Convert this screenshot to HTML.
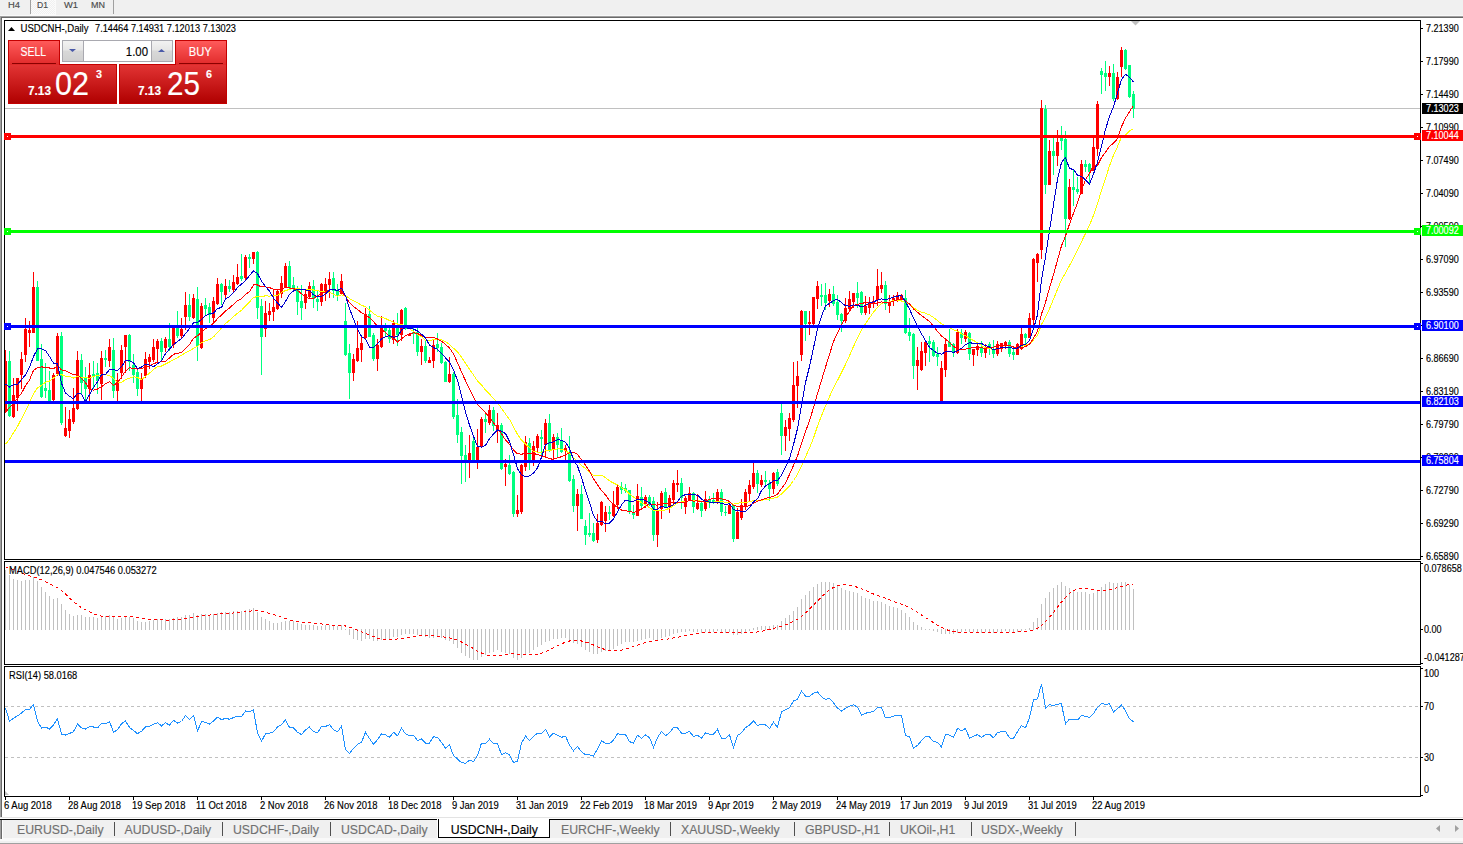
<!DOCTYPE html><html><head><meta charset="utf-8"><title>USDCNH-,Daily</title><style>
html,body{margin:0;padding:0;width:1463px;height:844px;overflow:hidden;background:#fff;}
svg{position:absolute;left:0;top:0;display:block}
text{font-family:"Liberation Sans",sans-serif;white-space:pre}
</style></head><body>
<svg width="1463" height="844" viewBox="0 0 1463 844">
<rect x="0" y="0" width="1463" height="15" fill="#f0f0f0" shape-rendering="crispEdges" />
<rect x="0" y="15" width="1463" height="1" fill="#f8f8f8" shape-rendering="crispEdges" />
<defs><pattern id="chk" x="0" y="0" width="2" height="2" patternUnits="userSpaceOnUse"><rect width="2" height="2" fill="#f0f0f0"/><rect width="1" height="1" fill="#fbfbfb"/><rect x="1" y="1" width="1" height="1" fill="#fbfbfb"/></pattern></defs>
<rect x="31" y="0" width="24" height="14" fill="url(#chk)" shape-rendering="crispEdges" />
<rect x="55" y="0" width="1" height="15" fill="#fafafa" shape-rendering="crispEdges" />
<rect x="31" y="14" width="25" height="1" fill="#fafafa" shape-rendering="crispEdges" />
<rect x="30" y="0" width="1" height="14" fill="#a0a0a0" shape-rendering="crispEdges" />
<rect x="113" y="0" width="1" height="14" fill="#a0a0a0" shape-rendering="crispEdges" />
<text x="8" y="8" font-size="9.8" fill="#4a4a4a" stroke="#4a4a4a" stroke-width="0.15" textLength="12.00" lengthAdjust="spacingAndGlyphs" >H4</text>
<text x="37" y="8" font-size="9.8" fill="#4a4a4a" stroke="#4a4a4a" stroke-width="0.15" textLength="11.00" lengthAdjust="spacingAndGlyphs" >D1</text>
<text x="64" y="8" font-size="9.8" fill="#4a4a4a" stroke="#4a4a4a" stroke-width="0.15" textLength="14.00" lengthAdjust="spacingAndGlyphs" >W1</text>
<text x="91" y="8" font-size="9.8" fill="#4a4a4a" stroke="#4a4a4a" stroke-width="0.15" textLength="14.00" lengthAdjust="spacingAndGlyphs" >MN</text>
<rect x="0" y="16" width="1463" height="1" fill="#a0a0a0" shape-rendering="crispEdges" />
<rect x="0" y="17" width="1463" height="1" fill="#696969" shape-rendering="crispEdges" />
<rect x="0" y="16" width="1" height="801" fill="#a0a0a0" shape-rendering="crispEdges" />
<rect x="1" y="17" width="1" height="800" fill="#696969" shape-rendering="crispEdges" />
<rect x="2" y="18" width="1461" height="799" fill="#ffffff" shape-rendering="crispEdges" />
<rect x="5" y="108" width="1415" height="1" fill="#c0c0c0" shape-rendering="crispEdges" />
<g shape-rendering="crispEdges">
<rect x="5" y="350" width="1" height="63" fill="#ff0000"/>
<rect x="4" y="361" width="3" height="49" fill="#ff0000"/>
<rect x="9" y="351" width="1" height="66" fill="#00ff7f"/>
<rect x="8" y="361" width="3" height="55" fill="#00ff7f"/>
<rect x="13" y="378" width="1" height="40" fill="#ff0000"/>
<rect x="12" y="395" width="3" height="22" fill="#ff0000"/>
<rect x="17" y="378" width="1" height="33" fill="#ff0000"/>
<rect x="16" y="378" width="3" height="20" fill="#ff0000"/>
<rect x="21" y="352" width="1" height="37" fill="#ff0000"/>
<rect x="20" y="359" width="3" height="16" fill="#ff0000"/>
<rect x="25" y="318" width="1" height="44" fill="#ff0000"/>
<rect x="24" y="329" width="3" height="26" fill="#ff0000"/>
<rect x="29" y="321" width="1" height="26" fill="#ff0000"/>
<rect x="28" y="330" width="3" height="3" fill="#ff0000"/>
<rect x="33" y="272" width="1" height="61" fill="#ff0000"/>
<rect x="32" y="287" width="3" height="46" fill="#ff0000"/>
<rect x="37" y="281" width="1" height="80" fill="#00ff7f"/>
<rect x="36" y="287" width="3" height="74" fill="#00ff7f"/>
<rect x="41" y="344" width="1" height="54" fill="#00ff7f"/>
<rect x="40" y="359" width="3" height="38" fill="#00ff7f"/>
<rect x="45" y="363" width="1" height="35" fill="#00ff7f"/>
<rect x="44" y="388" width="3" height="3" fill="#00ff7f"/>
<rect x="49" y="371" width="1" height="30" fill="#00ff7f"/>
<rect x="48" y="390" width="3" height="11" fill="#00ff7f"/>
<rect x="53" y="373" width="1" height="28" fill="#ff0000"/>
<rect x="52" y="375" width="3" height="25" fill="#ff0000"/>
<rect x="57" y="333" width="1" height="43" fill="#ff0000"/>
<rect x="56" y="336" width="3" height="38" fill="#ff0000"/>
<rect x="61" y="332" width="1" height="93" fill="#00ff7f"/>
<rect x="60" y="336" width="3" height="87" fill="#00ff7f"/>
<rect x="65" y="407" width="1" height="30" fill="#ff0000"/>
<rect x="64" y="428" width="3" height="8" fill="#ff0000"/>
<rect x="69" y="410" width="1" height="28" fill="#ff0000"/>
<rect x="68" y="419" width="3" height="12" fill="#ff0000"/>
<rect x="73" y="388" width="1" height="36" fill="#ff0000"/>
<rect x="72" y="408" width="3" height="14" fill="#ff0000"/>
<rect x="77" y="351" width="1" height="59" fill="#ff0000"/>
<rect x="76" y="360" width="3" height="49" fill="#ff0000"/>
<rect x="81" y="354" width="1" height="41" fill="#00ff7f"/>
<rect x="80" y="360" width="3" height="23" fill="#00ff7f"/>
<rect x="85" y="367" width="1" height="34" fill="#00ff7f"/>
<rect x="84" y="377" width="3" height="12" fill="#00ff7f"/>
<rect x="89" y="363" width="1" height="38" fill="#ff0000"/>
<rect x="88" y="375" width="3" height="14" fill="#ff0000"/>
<rect x="93" y="361" width="1" height="28" fill="#00ff7f"/>
<rect x="92" y="374" width="3" height="3" fill="#00ff7f"/>
<rect x="97" y="363" width="1" height="31" fill="#00ff7f"/>
<rect x="96" y="373" width="3" height="8" fill="#00ff7f"/>
<rect x="101" y="351" width="1" height="49" fill="#ff0000"/>
<rect x="100" y="358" width="3" height="26" fill="#ff0000"/>
<rect x="105" y="350" width="1" height="17" fill="#00ff7f"/>
<rect x="104" y="358" width="3" height="2" fill="#00ff7f"/>
<rect x="109" y="339" width="1" height="28" fill="#ff0000"/>
<rect x="108" y="347" width="3" height="14" fill="#ff0000"/>
<rect x="113" y="338" width="1" height="60" fill="#00ff7f"/>
<rect x="112" y="350" width="3" height="41" fill="#00ff7f"/>
<rect x="117" y="373" width="1" height="28" fill="#ff0000"/>
<rect x="116" y="380" width="3" height="11" fill="#ff0000"/>
<rect x="121" y="345" width="1" height="34" fill="#ff0000"/>
<rect x="120" y="350" width="3" height="23" fill="#ff0000"/>
<rect x="125" y="335" width="1" height="38" fill="#ff0000"/>
<rect x="124" y="335" width="3" height="12" fill="#ff0000"/>
<rect x="129" y="334" width="1" height="37" fill="#00ff7f"/>
<rect x="128" y="335" width="3" height="27" fill="#00ff7f"/>
<rect x="133" y="354" width="1" height="29" fill="#00ff7f"/>
<rect x="132" y="365" width="3" height="10" fill="#00ff7f"/>
<rect x="137" y="370" width="1" height="26" fill="#00ff7f"/>
<rect x="136" y="372" width="3" height="17" fill="#00ff7f"/>
<rect x="141" y="373" width="1" height="28" fill="#ff0000"/>
<rect x="140" y="378" width="3" height="11" fill="#ff0000"/>
<rect x="145" y="352" width="1" height="26" fill="#ff0000"/>
<rect x="144" y="359" width="3" height="17" fill="#ff0000"/>
<rect x="149" y="354" width="1" height="15" fill="#ff0000"/>
<rect x="148" y="357" width="3" height="5" fill="#ff0000"/>
<rect x="153" y="339" width="1" height="23" fill="#ff0000"/>
<rect x="152" y="347" width="3" height="13" fill="#ff0000"/>
<rect x="157" y="339" width="1" height="23" fill="#ff0000"/>
<rect x="156" y="341" width="3" height="8" fill="#ff0000"/>
<rect x="161" y="338" width="1" height="24" fill="#00ff7f"/>
<rect x="160" y="341" width="3" height="11" fill="#00ff7f"/>
<rect x="165" y="337" width="1" height="15" fill="#ff0000"/>
<rect x="164" y="339" width="3" height="9" fill="#ff0000"/>
<rect x="169" y="323" width="1" height="28" fill="#00ff7f"/>
<rect x="168" y="339" width="3" height="8" fill="#00ff7f"/>
<rect x="173" y="325" width="1" height="23" fill="#ff0000"/>
<rect x="172" y="327" width="3" height="18" fill="#ff0000"/>
<rect x="177" y="311" width="1" height="27" fill="#00ff7f"/>
<rect x="176" y="328" width="3" height="8" fill="#00ff7f"/>
<rect x="181" y="318" width="1" height="20" fill="#ff0000"/>
<rect x="180" y="329" width="3" height="7" fill="#ff0000"/>
<rect x="185" y="292" width="1" height="38" fill="#ff0000"/>
<rect x="184" y="305" width="3" height="12" fill="#ff0000"/>
<rect x="189" y="294" width="1" height="27" fill="#00ff7f"/>
<rect x="188" y="305" width="3" height="12" fill="#00ff7f"/>
<rect x="193" y="294" width="1" height="25" fill="#ff0000"/>
<rect x="192" y="298" width="3" height="20" fill="#ff0000"/>
<rect x="197" y="287" width="1" height="74" fill="#00ff7f"/>
<rect x="196" y="299" width="3" height="47" fill="#00ff7f"/>
<rect x="201" y="303" width="1" height="46" fill="#ff0000"/>
<rect x="200" y="306" width="3" height="42" fill="#ff0000"/>
<rect x="205" y="298" width="1" height="17" fill="#00ff7f"/>
<rect x="204" y="305" width="3" height="4" fill="#00ff7f"/>
<rect x="209" y="303" width="1" height="20" fill="#00ff7f"/>
<rect x="208" y="307" width="3" height="8" fill="#00ff7f"/>
<rect x="213" y="297" width="1" height="26" fill="#ff0000"/>
<rect x="212" y="301" width="3" height="17" fill="#ff0000"/>
<rect x="217" y="278" width="1" height="27" fill="#ff0000"/>
<rect x="216" y="284" width="3" height="20" fill="#ff0000"/>
<rect x="221" y="283" width="1" height="22" fill="#00ff7f"/>
<rect x="220" y="284" width="3" height="8" fill="#00ff7f"/>
<rect x="225" y="279" width="1" height="20" fill="#ff0000"/>
<rect x="224" y="286" width="3" height="9" fill="#ff0000"/>
<rect x="229" y="280" width="1" height="12" fill="#00ff7f"/>
<rect x="228" y="286" width="3" height="3" fill="#00ff7f"/>
<rect x="233" y="275" width="1" height="17" fill="#ff0000"/>
<rect x="232" y="282" width="3" height="8" fill="#ff0000"/>
<rect x="237" y="264" width="1" height="21" fill="#ff0000"/>
<rect x="236" y="277" width="3" height="7" fill="#ff0000"/>
<rect x="241" y="254" width="1" height="27" fill="#00ff7f"/>
<rect x="240" y="276" width="3" height="3" fill="#00ff7f"/>
<rect x="245" y="255" width="1" height="25" fill="#ff0000"/>
<rect x="244" y="257" width="3" height="21" fill="#ff0000"/>
<rect x="249" y="254" width="1" height="14" fill="#00ff7f"/>
<rect x="248" y="257" width="3" height="2" fill="#00ff7f"/>
<rect x="253" y="252" width="1" height="12" fill="#ff0000"/>
<rect x="252" y="252" width="3" height="7" fill="#ff0000"/>
<rect x="257" y="251" width="1" height="68" fill="#00ff7f"/>
<rect x="256" y="252" width="3" height="56" fill="#00ff7f"/>
<rect x="261" y="299" width="1" height="76" fill="#00ff7f"/>
<rect x="260" y="306" width="3" height="31" fill="#00ff7f"/>
<rect x="265" y="301" width="1" height="36" fill="#ff0000"/>
<rect x="264" y="313" width="3" height="16" fill="#ff0000"/>
<rect x="269" y="303" width="1" height="18" fill="#ff0000"/>
<rect x="268" y="311" width="3" height="4" fill="#ff0000"/>
<rect x="273" y="289" width="1" height="32" fill="#ff0000"/>
<rect x="272" y="307" width="3" height="5" fill="#ff0000"/>
<rect x="277" y="289" width="1" height="21" fill="#ff0000"/>
<rect x="276" y="291" width="3" height="18" fill="#ff0000"/>
<rect x="281" y="276" width="1" height="22" fill="#ff0000"/>
<rect x="280" y="283" width="3" height="11" fill="#ff0000"/>
<rect x="285" y="263" width="1" height="25" fill="#ff0000"/>
<rect x="284" y="266" width="3" height="22" fill="#ff0000"/>
<rect x="289" y="261" width="1" height="28" fill="#00ff7f"/>
<rect x="288" y="266" width="3" height="22" fill="#00ff7f"/>
<rect x="293" y="277" width="1" height="15" fill="#00ff7f"/>
<rect x="292" y="285" width="3" height="4" fill="#00ff7f"/>
<rect x="297" y="286" width="1" height="29" fill="#00ff7f"/>
<rect x="296" y="288" width="3" height="14" fill="#00ff7f"/>
<rect x="301" y="285" width="1" height="35" fill="#00ff7f"/>
<rect x="300" y="301" width="3" height="7" fill="#00ff7f"/>
<rect x="305" y="289" width="1" height="20" fill="#ff0000"/>
<rect x="304" y="294" width="3" height="9" fill="#ff0000"/>
<rect x="309" y="282" width="1" height="16" fill="#ff0000"/>
<rect x="308" y="286" width="3" height="11" fill="#ff0000"/>
<rect x="313" y="280" width="1" height="28" fill="#00ff7f"/>
<rect x="312" y="286" width="3" height="13" fill="#00ff7f"/>
<rect x="317" y="291" width="1" height="20" fill="#00ff7f"/>
<rect x="316" y="299" width="3" height="3" fill="#00ff7f"/>
<rect x="321" y="283" width="1" height="23" fill="#ff0000"/>
<rect x="320" y="284" width="3" height="18" fill="#ff0000"/>
<rect x="325" y="278" width="1" height="23" fill="#ff0000"/>
<rect x="324" y="284" width="3" height="8" fill="#ff0000"/>
<rect x="329" y="272" width="1" height="26" fill="#ff0000"/>
<rect x="328" y="279" width="3" height="6" fill="#ff0000"/>
<rect x="333" y="272" width="1" height="26" fill="#00ff7f"/>
<rect x="332" y="278" width="3" height="13" fill="#00ff7f"/>
<rect x="337" y="284" width="1" height="17" fill="#00ff7f"/>
<rect x="336" y="290" width="3" height="6" fill="#00ff7f"/>
<rect x="341" y="274" width="1" height="21" fill="#ff0000"/>
<rect x="340" y="281" width="3" height="13" fill="#ff0000"/>
<rect x="345" y="303" width="1" height="53" fill="#00ff7f"/>
<rect x="344" y="321" width="3" height="34" fill="#00ff7f"/>
<rect x="349" y="344" width="1" height="55" fill="#00ff7f"/>
<rect x="348" y="353" width="3" height="20" fill="#00ff7f"/>
<rect x="353" y="354" width="1" height="27" fill="#ff0000"/>
<rect x="352" y="359" width="3" height="14" fill="#ff0000"/>
<rect x="357" y="321" width="1" height="41" fill="#ff0000"/>
<rect x="356" y="348" width="3" height="13" fill="#ff0000"/>
<rect x="361" y="336" width="1" height="26" fill="#ff0000"/>
<rect x="360" y="343" width="3" height="7" fill="#ff0000"/>
<rect x="365" y="308" width="1" height="31" fill="#ff0000"/>
<rect x="364" y="314" width="3" height="24" fill="#ff0000"/>
<rect x="369" y="306" width="1" height="31" fill="#00ff7f"/>
<rect x="368" y="314" width="3" height="23" fill="#00ff7f"/>
<rect x="373" y="333" width="1" height="28" fill="#00ff7f"/>
<rect x="372" y="335" width="3" height="24" fill="#00ff7f"/>
<rect x="377" y="339" width="1" height="32" fill="#ff0000"/>
<rect x="376" y="345" width="3" height="14" fill="#ff0000"/>
<rect x="381" y="316" width="1" height="32" fill="#ff0000"/>
<rect x="380" y="326" width="3" height="21" fill="#ff0000"/>
<rect x="385" y="323" width="1" height="13" fill="#00ff7f"/>
<rect x="384" y="325" width="3" height="6" fill="#00ff7f"/>
<rect x="389" y="328" width="1" height="15" fill="#00ff7f"/>
<rect x="388" y="330" width="3" height="9" fill="#00ff7f"/>
<rect x="393" y="320" width="1" height="24" fill="#ff0000"/>
<rect x="392" y="323" width="3" height="17" fill="#ff0000"/>
<rect x="397" y="313" width="1" height="33" fill="#00ff7f"/>
<rect x="396" y="325" width="3" height="10" fill="#00ff7f"/>
<rect x="401" y="309" width="1" height="32" fill="#ff0000"/>
<rect x="400" y="310" width="3" height="25" fill="#ff0000"/>
<rect x="405" y="307" width="1" height="23" fill="#00ff7f"/>
<rect x="404" y="308" width="3" height="21" fill="#00ff7f"/>
<rect x="409" y="333" width="1" height="3" fill="#ff0000"/>
<rect x="408" y="334" width="3" height="2" fill="#ff0000"/>
<rect x="413" y="328" width="1" height="16" fill="#00ff7f"/>
<rect x="412" y="332" width="3" height="2" fill="#00ff7f"/>
<rect x="417" y="328" width="1" height="28" fill="#00ff7f"/>
<rect x="416" y="332" width="3" height="20" fill="#00ff7f"/>
<rect x="421" y="339" width="1" height="26" fill="#ff0000"/>
<rect x="420" y="346" width="3" height="6" fill="#ff0000"/>
<rect x="425" y="340" width="1" height="23" fill="#00ff7f"/>
<rect x="424" y="346" width="3" height="15" fill="#00ff7f"/>
<rect x="429" y="357" width="1" height="6" fill="#ff0000"/>
<rect x="428" y="360" width="3" height="3" fill="#ff0000"/>
<rect x="433" y="340" width="1" height="28" fill="#ff0000"/>
<rect x="432" y="345" width="3" height="16" fill="#ff0000"/>
<rect x="437" y="333" width="1" height="19" fill="#00ff7f"/>
<rect x="436" y="344" width="3" height="4" fill="#00ff7f"/>
<rect x="441" y="343" width="1" height="21" fill="#00ff7f"/>
<rect x="440" y="347" width="3" height="16" fill="#00ff7f"/>
<rect x="445" y="361" width="1" height="21" fill="#00ff7f"/>
<rect x="444" y="362" width="3" height="20" fill="#00ff7f"/>
<rect x="449" y="357" width="1" height="26" fill="#ff0000"/>
<rect x="448" y="374" width="3" height="8" fill="#ff0000"/>
<rect x="453" y="372" width="1" height="47" fill="#00ff7f"/>
<rect x="452" y="374" width="3" height="43" fill="#00ff7f"/>
<rect x="457" y="399" width="1" height="44" fill="#00ff7f"/>
<rect x="456" y="415" width="3" height="20" fill="#00ff7f"/>
<rect x="461" y="427" width="1" height="57" fill="#00ff7f"/>
<rect x="460" y="432" width="3" height="24" fill="#00ff7f"/>
<rect x="465" y="445" width="1" height="37" fill="#00ff7f"/>
<rect x="464" y="455" width="3" height="5" fill="#00ff7f"/>
<rect x="469" y="435" width="1" height="43" fill="#ff0000"/>
<rect x="468" y="453" width="3" height="8" fill="#ff0000"/>
<rect x="473" y="437" width="1" height="24" fill="#00ff7f"/>
<rect x="472" y="441" width="3" height="19" fill="#00ff7f"/>
<rect x="477" y="429" width="1" height="40" fill="#ff0000"/>
<rect x="476" y="447" width="3" height="15" fill="#ff0000"/>
<rect x="481" y="417" width="1" height="31" fill="#ff0000"/>
<rect x="480" y="419" width="3" height="28" fill="#ff0000"/>
<rect x="485" y="413" width="1" height="20" fill="#00ff7f"/>
<rect x="484" y="419" width="3" height="3" fill="#00ff7f"/>
<rect x="489" y="405" width="1" height="20" fill="#ff0000"/>
<rect x="488" y="410" width="3" height="13" fill="#ff0000"/>
<rect x="493" y="407" width="1" height="24" fill="#00ff7f"/>
<rect x="492" y="410" width="3" height="16" fill="#00ff7f"/>
<rect x="497" y="413" width="1" height="30" fill="#ff0000"/>
<rect x="496" y="425" width="3" height="6" fill="#ff0000"/>
<rect x="501" y="423" width="1" height="47" fill="#00ff7f"/>
<rect x="500" y="425" width="3" height="44" fill="#00ff7f"/>
<rect x="505" y="459" width="1" height="27" fill="#ff0000"/>
<rect x="504" y="464" width="3" height="3" fill="#ff0000"/>
<rect x="509" y="455" width="1" height="20" fill="#00ff7f"/>
<rect x="508" y="465" width="3" height="9" fill="#00ff7f"/>
<rect x="513" y="471" width="1" height="46" fill="#00ff7f"/>
<rect x="512" y="472" width="3" height="42" fill="#00ff7f"/>
<rect x="517" y="495" width="1" height="22" fill="#ff0000"/>
<rect x="516" y="510" width="3" height="4" fill="#ff0000"/>
<rect x="521" y="464" width="1" height="50" fill="#ff0000"/>
<rect x="520" y="465" width="3" height="47" fill="#ff0000"/>
<rect x="525" y="436" width="1" height="35" fill="#ff0000"/>
<rect x="524" y="442" width="3" height="25" fill="#ff0000"/>
<rect x="529" y="438" width="1" height="32" fill="#00ff7f"/>
<rect x="528" y="443" width="3" height="18" fill="#00ff7f"/>
<rect x="533" y="441" width="1" height="25" fill="#ff0000"/>
<rect x="532" y="446" width="3" height="15" fill="#ff0000"/>
<rect x="537" y="434" width="1" height="19" fill="#ff0000"/>
<rect x="536" y="436" width="3" height="12" fill="#ff0000"/>
<rect x="541" y="430" width="1" height="27" fill="#00ff7f"/>
<rect x="540" y="437" width="3" height="2" fill="#00ff7f"/>
<rect x="545" y="419" width="1" height="39" fill="#ff0000"/>
<rect x="544" y="423" width="3" height="22" fill="#ff0000"/>
<rect x="549" y="414" width="1" height="38" fill="#00ff7f"/>
<rect x="548" y="423" width="3" height="28" fill="#00ff7f"/>
<rect x="553" y="434" width="1" height="27" fill="#ff0000"/>
<rect x="552" y="437" width="3" height="13" fill="#ff0000"/>
<rect x="557" y="433" width="1" height="25" fill="#00ff7f"/>
<rect x="556" y="437" width="3" height="8" fill="#00ff7f"/>
<rect x="561" y="428" width="1" height="25" fill="#00ff7f"/>
<rect x="560" y="441" width="3" height="11" fill="#00ff7f"/>
<rect x="565" y="445" width="1" height="16" fill="#ff0000"/>
<rect x="564" y="448" width="3" height="3" fill="#ff0000"/>
<rect x="569" y="436" width="1" height="46" fill="#00ff7f"/>
<rect x="568" y="452" width="3" height="29" fill="#00ff7f"/>
<rect x="573" y="475" width="1" height="37" fill="#00ff7f"/>
<rect x="572" y="479" width="3" height="27" fill="#00ff7f"/>
<rect x="577" y="489" width="1" height="42" fill="#ff0000"/>
<rect x="576" y="494" width="3" height="12" fill="#ff0000"/>
<rect x="581" y="485" width="1" height="34" fill="#00ff7f"/>
<rect x="580" y="494" width="3" height="25" fill="#00ff7f"/>
<rect x="585" y="520" width="1" height="25" fill="#00ff7f"/>
<rect x="584" y="526" width="3" height="9" fill="#00ff7f"/>
<rect x="589" y="513" width="1" height="24" fill="#00ff7f"/>
<rect x="588" y="533" width="3" height="2" fill="#00ff7f"/>
<rect x="593" y="523" width="1" height="19" fill="#00ff7f"/>
<rect x="592" y="533" width="3" height="8" fill="#00ff7f"/>
<rect x="597" y="514" width="1" height="29" fill="#ff0000"/>
<rect x="596" y="523" width="3" height="17" fill="#ff0000"/>
<rect x="601" y="501" width="1" height="25" fill="#ff0000"/>
<rect x="600" y="502" width="3" height="23" fill="#ff0000"/>
<rect x="605" y="506" width="1" height="26" fill="#ff0000"/>
<rect x="604" y="512" width="3" height="9" fill="#ff0000"/>
<rect x="609" y="506" width="1" height="14" fill="#00ff7f"/>
<rect x="608" y="512" width="3" height="2" fill="#00ff7f"/>
<rect x="613" y="491" width="1" height="26" fill="#ff0000"/>
<rect x="612" y="504" width="3" height="12" fill="#ff0000"/>
<rect x="617" y="485" width="1" height="24" fill="#ff0000"/>
<rect x="616" y="487" width="3" height="18" fill="#ff0000"/>
<rect x="621" y="482" width="1" height="12" fill="#00ff7f"/>
<rect x="620" y="487" width="3" height="3" fill="#00ff7f"/>
<rect x="625" y="484" width="1" height="9" fill="#00ff7f"/>
<rect x="624" y="488" width="3" height="3" fill="#00ff7f"/>
<rect x="629" y="490" width="1" height="24" fill="#00ff7f"/>
<rect x="628" y="490" width="3" height="21" fill="#00ff7f"/>
<rect x="633" y="505" width="1" height="14" fill="#00ff7f"/>
<rect x="632" y="512" width="3" height="3" fill="#00ff7f"/>
<rect x="637" y="484" width="1" height="32" fill="#ff0000"/>
<rect x="636" y="496" width="3" height="20" fill="#ff0000"/>
<rect x="641" y="487" width="1" height="22" fill="#00ff7f"/>
<rect x="640" y="497" width="3" height="9" fill="#00ff7f"/>
<rect x="645" y="495" width="1" height="13" fill="#ff0000"/>
<rect x="644" y="497" width="3" height="7" fill="#ff0000"/>
<rect x="649" y="495" width="1" height="11" fill="#00ff7f"/>
<rect x="648" y="497" width="3" height="8" fill="#00ff7f"/>
<rect x="653" y="497" width="1" height="44" fill="#00ff7f"/>
<rect x="652" y="501" width="3" height="34" fill="#00ff7f"/>
<rect x="657" y="502" width="1" height="45" fill="#ff0000"/>
<rect x="656" y="511" width="3" height="24" fill="#ff0000"/>
<rect x="661" y="491" width="1" height="28" fill="#ff0000"/>
<rect x="660" y="493" width="3" height="16" fill="#ff0000"/>
<rect x="665" y="488" width="1" height="20" fill="#00ff7f"/>
<rect x="664" y="492" width="3" height="15" fill="#00ff7f"/>
<rect x="669" y="495" width="1" height="18" fill="#ff0000"/>
<rect x="668" y="498" width="3" height="8" fill="#ff0000"/>
<rect x="673" y="480" width="1" height="24" fill="#ff0000"/>
<rect x="672" y="483" width="3" height="17" fill="#ff0000"/>
<rect x="677" y="470" width="1" height="22" fill="#ff0000"/>
<rect x="676" y="483" width="3" height="2" fill="#ff0000"/>
<rect x="681" y="478" width="1" height="31" fill="#00ff7f"/>
<rect x="680" y="483" width="3" height="15" fill="#00ff7f"/>
<rect x="685" y="496" width="1" height="18" fill="#ff0000"/>
<rect x="684" y="498" width="3" height="9" fill="#ff0000"/>
<rect x="689" y="487" width="1" height="14" fill="#ff0000"/>
<rect x="688" y="493" width="3" height="7" fill="#ff0000"/>
<rect x="693" y="492" width="1" height="21" fill="#00ff7f"/>
<rect x="692" y="493" width="3" height="14" fill="#00ff7f"/>
<rect x="697" y="494" width="1" height="16" fill="#ff0000"/>
<rect x="696" y="503" width="3" height="6" fill="#ff0000"/>
<rect x="701" y="502" width="1" height="15" fill="#00ff7f"/>
<rect x="700" y="503" width="3" height="8" fill="#00ff7f"/>
<rect x="705" y="491" width="1" height="20" fill="#ff0000"/>
<rect x="704" y="499" width="3" height="10" fill="#ff0000"/>
<rect x="709" y="496" width="1" height="12" fill="#00ff7f"/>
<rect x="708" y="500" width="3" height="3" fill="#00ff7f"/>
<rect x="713" y="493" width="1" height="11" fill="#00ff7f"/>
<rect x="712" y="500" width="3" height="3" fill="#00ff7f"/>
<rect x="717" y="489" width="1" height="15" fill="#ff0000"/>
<rect x="716" y="492" width="3" height="9" fill="#ff0000"/>
<rect x="721" y="489" width="1" height="27" fill="#00ff7f"/>
<rect x="720" y="492" width="3" height="20" fill="#00ff7f"/>
<rect x="725" y="506" width="1" height="10" fill="#00ff7f"/>
<rect x="724" y="512" width="3" height="1" fill="#00ff7f"/>
<rect x="729" y="504" width="1" height="10" fill="#ff0000"/>
<rect x="728" y="505" width="3" height="9" fill="#ff0000"/>
<rect x="733" y="504" width="1" height="38" fill="#00ff7f"/>
<rect x="732" y="505" width="3" height="34" fill="#00ff7f"/>
<rect x="737" y="508" width="1" height="31" fill="#ff0000"/>
<rect x="736" y="512" width="3" height="27" fill="#ff0000"/>
<rect x="741" y="499" width="1" height="21" fill="#ff0000"/>
<rect x="740" y="505" width="3" height="13" fill="#ff0000"/>
<rect x="745" y="489" width="1" height="21" fill="#ff0000"/>
<rect x="744" y="492" width="3" height="15" fill="#ff0000"/>
<rect x="749" y="480" width="1" height="21" fill="#ff0000"/>
<rect x="748" y="485" width="3" height="9" fill="#ff0000"/>
<rect x="753" y="463" width="1" height="26" fill="#ff0000"/>
<rect x="752" y="473" width="3" height="14" fill="#ff0000"/>
<rect x="757" y="470" width="1" height="23" fill="#00ff7f"/>
<rect x="756" y="473" width="3" height="11" fill="#00ff7f"/>
<rect x="761" y="475" width="1" height="12" fill="#ff0000"/>
<rect x="760" y="480" width="3" height="5" fill="#ff0000"/>
<rect x="765" y="471" width="1" height="14" fill="#00ff7f"/>
<rect x="764" y="480" width="3" height="2" fill="#00ff7f"/>
<rect x="769" y="480" width="1" height="21" fill="#00ff7f"/>
<rect x="768" y="483" width="3" height="6" fill="#00ff7f"/>
<rect x="773" y="472" width="1" height="22" fill="#ff0000"/>
<rect x="772" y="473" width="3" height="16" fill="#ff0000"/>
<rect x="777" y="469" width="1" height="17" fill="#00ff7f"/>
<rect x="776" y="472" width="3" height="12" fill="#00ff7f"/>
<rect x="781" y="404" width="1" height="51" fill="#00ff7f"/>
<rect x="780" y="413" width="3" height="23" fill="#00ff7f"/>
<rect x="785" y="420" width="1" height="31" fill="#ff0000"/>
<rect x="784" y="427" width="3" height="9" fill="#ff0000"/>
<rect x="789" y="413" width="1" height="28" fill="#ff0000"/>
<rect x="788" y="418" width="3" height="11" fill="#ff0000"/>
<rect x="793" y="362" width="1" height="60" fill="#ff0000"/>
<rect x="792" y="385" width="3" height="35" fill="#ff0000"/>
<rect x="797" y="361" width="1" height="47" fill="#ff0000"/>
<rect x="796" y="376" width="3" height="10" fill="#ff0000"/>
<rect x="801" y="310" width="1" height="51" fill="#ff0000"/>
<rect x="800" y="311" width="3" height="44" fill="#ff0000"/>
<rect x="805" y="311" width="1" height="30" fill="#00ff7f"/>
<rect x="804" y="311" width="3" height="13" fill="#00ff7f"/>
<rect x="809" y="311" width="1" height="24" fill="#ff0000"/>
<rect x="808" y="322" width="3" height="2" fill="#ff0000"/>
<rect x="813" y="297" width="1" height="28" fill="#ff0000"/>
<rect x="812" y="297" width="3" height="27" fill="#ff0000"/>
<rect x="817" y="281" width="1" height="28" fill="#ff0000"/>
<rect x="816" y="286" width="3" height="13" fill="#ff0000"/>
<rect x="821" y="284" width="1" height="22" fill="#00ff7f"/>
<rect x="820" y="295" width="3" height="2" fill="#00ff7f"/>
<rect x="825" y="283" width="1" height="27" fill="#00ff7f"/>
<rect x="824" y="295" width="3" height="8" fill="#00ff7f"/>
<rect x="829" y="289" width="1" height="18" fill="#ff0000"/>
<rect x="828" y="294" width="3" height="7" fill="#ff0000"/>
<rect x="833" y="286" width="1" height="20" fill="#00ff7f"/>
<rect x="832" y="294" width="3" height="10" fill="#00ff7f"/>
<rect x="837" y="295" width="1" height="25" fill="#00ff7f"/>
<rect x="836" y="302" width="3" height="13" fill="#00ff7f"/>
<rect x="841" y="313" width="1" height="19" fill="#00ff7f"/>
<rect x="840" y="314" width="3" height="7" fill="#00ff7f"/>
<rect x="845" y="298" width="1" height="25" fill="#ff0000"/>
<rect x="844" y="308" width="3" height="13" fill="#ff0000"/>
<rect x="849" y="291" width="1" height="19" fill="#ff0000"/>
<rect x="848" y="299" width="3" height="10" fill="#ff0000"/>
<rect x="853" y="293" width="1" height="15" fill="#ff0000"/>
<rect x="852" y="293" width="3" height="9" fill="#ff0000"/>
<rect x="857" y="282" width="1" height="26" fill="#00ff7f"/>
<rect x="856" y="293" width="3" height="5" fill="#00ff7f"/>
<rect x="861" y="291" width="1" height="24" fill="#00ff7f"/>
<rect x="860" y="292" width="3" height="21" fill="#00ff7f"/>
<rect x="865" y="296" width="1" height="19" fill="#ff0000"/>
<rect x="864" y="306" width="3" height="7" fill="#ff0000"/>
<rect x="869" y="297" width="1" height="17" fill="#ff0000"/>
<rect x="868" y="302" width="3" height="6" fill="#ff0000"/>
<rect x="873" y="296" width="1" height="12" fill="#ff0000"/>
<rect x="872" y="301" width="3" height="2" fill="#ff0000"/>
<rect x="877" y="269" width="1" height="37" fill="#ff0000"/>
<rect x="876" y="286" width="3" height="14" fill="#ff0000"/>
<rect x="881" y="272" width="1" height="21" fill="#ff0000"/>
<rect x="880" y="285" width="3" height="4" fill="#ff0000"/>
<rect x="885" y="281" width="1" height="29" fill="#00ff7f"/>
<rect x="884" y="285" width="3" height="19" fill="#00ff7f"/>
<rect x="889" y="295" width="1" height="18" fill="#ff0000"/>
<rect x="888" y="302" width="3" height="4" fill="#ff0000"/>
<rect x="893" y="295" width="1" height="11" fill="#ff0000"/>
<rect x="892" y="298" width="3" height="3" fill="#ff0000"/>
<rect x="897" y="292" width="1" height="10" fill="#ff0000"/>
<rect x="896" y="295" width="3" height="6" fill="#ff0000"/>
<rect x="901" y="294" width="1" height="7" fill="#ff0000"/>
<rect x="900" y="295" width="3" height="5" fill="#ff0000"/>
<rect x="905" y="290" width="1" height="44" fill="#00ff7f"/>
<rect x="904" y="298" width="3" height="35" fill="#00ff7f"/>
<rect x="909" y="318" width="1" height="23" fill="#00ff7f"/>
<rect x="908" y="332" width="3" height="4" fill="#00ff7f"/>
<rect x="913" y="333" width="1" height="46" fill="#00ff7f"/>
<rect x="912" y="334" width="3" height="32" fill="#00ff7f"/>
<rect x="917" y="347" width="1" height="43" fill="#ff0000"/>
<rect x="916" y="360" width="3" height="6" fill="#ff0000"/>
<rect x="921" y="342" width="1" height="29" fill="#ff0000"/>
<rect x="920" y="351" width="3" height="19" fill="#ff0000"/>
<rect x="925" y="341" width="1" height="25" fill="#ff0000"/>
<rect x="924" y="342" width="3" height="11" fill="#ff0000"/>
<rect x="929" y="336" width="1" height="26" fill="#00ff7f"/>
<rect x="928" y="341" width="3" height="3" fill="#00ff7f"/>
<rect x="933" y="340" width="1" height="17" fill="#00ff7f"/>
<rect x="932" y="342" width="3" height="14" fill="#00ff7f"/>
<rect x="937" y="347" width="1" height="19" fill="#00ff7f"/>
<rect x="936" y="354" width="3" height="3" fill="#00ff7f"/>
<rect x="941" y="361" width="1" height="41" fill="#ff0000"/>
<rect x="940" y="368" width="3" height="34" fill="#ff0000"/>
<rect x="945" y="339" width="1" height="38" fill="#ff0000"/>
<rect x="944" y="344" width="3" height="26" fill="#ff0000"/>
<rect x="949" y="329" width="1" height="18" fill="#00ff7f"/>
<rect x="948" y="342" width="3" height="5" fill="#00ff7f"/>
<rect x="953" y="343" width="1" height="14" fill="#00ff7f"/>
<rect x="952" y="344" width="3" height="8" fill="#00ff7f"/>
<rect x="957" y="329" width="1" height="25" fill="#ff0000"/>
<rect x="956" y="332" width="3" height="21" fill="#ff0000"/>
<rect x="961" y="329" width="1" height="15" fill="#00ff7f"/>
<rect x="960" y="333" width="3" height="5" fill="#00ff7f"/>
<rect x="965" y="330" width="1" height="12" fill="#ff0000"/>
<rect x="964" y="332" width="3" height="7" fill="#ff0000"/>
<rect x="969" y="332" width="1" height="28" fill="#00ff7f"/>
<rect x="968" y="333" width="3" height="21" fill="#00ff7f"/>
<rect x="973" y="349" width="1" height="17" fill="#ff0000"/>
<rect x="972" y="349" width="3" height="6" fill="#ff0000"/>
<rect x="977" y="342" width="1" height="14" fill="#ff0000"/>
<rect x="976" y="346" width="3" height="4" fill="#ff0000"/>
<rect x="981" y="341" width="1" height="16" fill="#00ff7f"/>
<rect x="980" y="347" width="3" height="6" fill="#00ff7f"/>
<rect x="985" y="344" width="1" height="14" fill="#ff0000"/>
<rect x="984" y="347" width="3" height="6" fill="#ff0000"/>
<rect x="989" y="342" width="1" height="13" fill="#00ff7f"/>
<rect x="988" y="344" width="3" height="3" fill="#00ff7f"/>
<rect x="993" y="340" width="1" height="18" fill="#00ff7f"/>
<rect x="992" y="349" width="3" height="5" fill="#00ff7f"/>
<rect x="997" y="341" width="1" height="15" fill="#ff0000"/>
<rect x="996" y="344" width="3" height="10" fill="#ff0000"/>
<rect x="1001" y="343" width="1" height="9" fill="#ff0000"/>
<rect x="1000" y="343" width="3" height="6" fill="#ff0000"/>
<rect x="1005" y="341" width="1" height="8" fill="#ff0000"/>
<rect x="1004" y="342" width="3" height="3" fill="#ff0000"/>
<rect x="1009" y="340" width="1" height="17" fill="#00ff7f"/>
<rect x="1008" y="342" width="3" height="12" fill="#00ff7f"/>
<rect x="1013" y="348" width="1" height="12" fill="#00ff7f"/>
<rect x="1012" y="352" width="3" height="3" fill="#00ff7f"/>
<rect x="1017" y="343" width="1" height="12" fill="#ff0000"/>
<rect x="1016" y="344" width="3" height="11" fill="#ff0000"/>
<rect x="1021" y="328" width="1" height="22" fill="#ff0000"/>
<rect x="1020" y="334" width="3" height="15" fill="#ff0000"/>
<rect x="1025" y="333" width="1" height="12" fill="#00ff7f"/>
<rect x="1024" y="334" width="3" height="4" fill="#00ff7f"/>
<rect x="1029" y="313" width="1" height="25" fill="#ff0000"/>
<rect x="1028" y="318" width="3" height="20" fill="#ff0000"/>
<rect x="1033" y="258" width="1" height="67" fill="#ff0000"/>
<rect x="1032" y="259" width="3" height="61" fill="#ff0000"/>
<rect x="1037" y="253" width="1" height="29" fill="#ff0000"/>
<rect x="1036" y="254" width="3" height="9" fill="#ff0000"/>
<rect x="1041" y="100" width="1" height="159" fill="#ff0000"/>
<rect x="1040" y="108" width="3" height="142" fill="#ff0000"/>
<rect x="1045" y="105" width="1" height="89" fill="#00ff7f"/>
<rect x="1044" y="109" width="3" height="76" fill="#00ff7f"/>
<rect x="1049" y="140" width="1" height="45" fill="#ff0000"/>
<rect x="1048" y="151" width="3" height="34" fill="#ff0000"/>
<rect x="1053" y="138" width="1" height="37" fill="#00ff7f"/>
<rect x="1052" y="151" width="3" height="5" fill="#00ff7f"/>
<rect x="1057" y="130" width="1" height="36" fill="#ff0000"/>
<rect x="1056" y="142" width="3" height="14" fill="#ff0000"/>
<rect x="1061" y="126" width="1" height="24" fill="#00ff7f"/>
<rect x="1060" y="138" width="3" height="3" fill="#00ff7f"/>
<rect x="1065" y="131" width="1" height="116" fill="#00ff7f"/>
<rect x="1064" y="139" width="3" height="80" fill="#00ff7f"/>
<rect x="1069" y="179" width="1" height="41" fill="#ff0000"/>
<rect x="1068" y="187" width="3" height="32" fill="#ff0000"/>
<rect x="1073" y="170" width="1" height="36" fill="#00ff7f"/>
<rect x="1072" y="187" width="3" height="3" fill="#00ff7f"/>
<rect x="1077" y="177" width="1" height="17" fill="#00ff7f"/>
<rect x="1076" y="189" width="3" height="3" fill="#00ff7f"/>
<rect x="1081" y="160" width="1" height="34" fill="#ff0000"/>
<rect x="1080" y="164" width="3" height="30" fill="#ff0000"/>
<rect x="1085" y="160" width="1" height="12" fill="#00ff7f"/>
<rect x="1084" y="164" width="3" height="3" fill="#00ff7f"/>
<rect x="1089" y="163" width="1" height="20" fill="#00ff7f"/>
<rect x="1088" y="164" width="3" height="8" fill="#00ff7f"/>
<rect x="1093" y="138" width="1" height="33" fill="#ff0000"/>
<rect x="1092" y="147" width="3" height="24" fill="#ff0000"/>
<rect x="1097" y="101" width="1" height="55" fill="#ff0000"/>
<rect x="1096" y="104" width="3" height="45" fill="#ff0000"/>
<rect x="1101" y="68" width="1" height="26" fill="#00ff7f"/>
<rect x="1100" y="71" width="3" height="4" fill="#00ff7f"/>
<rect x="1105" y="61" width="1" height="30" fill="#00ff7f"/>
<rect x="1104" y="73" width="3" height="4" fill="#00ff7f"/>
<rect x="1109" y="66" width="1" height="20" fill="#ff0000"/>
<rect x="1108" y="73" width="3" height="4" fill="#ff0000"/>
<rect x="1113" y="64" width="1" height="37" fill="#00ff7f"/>
<rect x="1112" y="73" width="3" height="26" fill="#00ff7f"/>
<rect x="1117" y="72" width="1" height="28" fill="#ff0000"/>
<rect x="1116" y="77" width="3" height="22" fill="#ff0000"/>
<rect x="1121" y="47" width="1" height="30" fill="#ff0000"/>
<rect x="1120" y="50" width="3" height="17" fill="#ff0000"/>
<rect x="1125" y="49" width="1" height="21" fill="#00ff7f"/>
<rect x="1124" y="50" width="3" height="19" fill="#00ff7f"/>
<rect x="1129" y="65" width="1" height="33" fill="#00ff7f"/>
<rect x="1128" y="65" width="3" height="32" fill="#00ff7f"/>
<rect x="1133" y="91" width="1" height="27" fill="#00ff7f"/>
<rect x="1132" y="94" width="3" height="15" fill="#00ff7f"/>
</g>
<polyline points="5.5,444.1 9.5,439.4 13.5,432.8 17.5,426.6 21.5,418.7 25.5,410.9 29.5,402.5 33.5,393.7 37.5,387.8 41.5,385.5 45.5,382.2 49.5,381.1 53.5,378.1 57.5,374.7 61.5,374.6 65.5,376.2 69.5,376.6 73.5,378.0 77.5,376.4 81.5,377.3 85.5,377.5 89.5,378.2 93.5,376.4 97.5,375.6 101.5,374.7 105.5,374.7 109.5,375.5 113.5,378.4 117.5,382.8 121.5,382.4 125.5,379.5 129.5,378.1 133.5,376.8 137.5,377.5 141.5,379.5 145.5,376.5 149.5,373.1 153.5,369.6 157.5,366.5 161.5,366.0 165.5,364.0 169.5,362.0 173.5,359.7 177.5,357.7 181.5,355.3 185.5,352.8 189.5,350.7 193.5,348.4 197.5,346.3 201.5,342.7 205.5,340.7 209.5,339.7 213.5,336.9 217.5,332.6 221.5,328.0 225.5,323.6 229.5,320.2 233.5,316.6 237.5,313.3 241.5,310.3 245.5,305.8 249.5,302.0 253.5,297.5 257.5,296.5 261.5,296.6 265.5,295.8 269.5,296.1 273.5,295.7 277.5,295.4 281.5,292.4 285.5,290.5 289.5,289.5 293.5,288.3 297.5,288.3 301.5,289.4 305.5,289.5 309.5,289.5 313.5,290.0 317.5,290.9 321.5,291.2 325.5,291.5 329.5,292.5 333.5,294.1 337.5,296.1 341.5,294.9 345.5,295.7 349.5,298.5 353.5,300.8 357.5,302.8 361.5,305.3 365.5,306.7 369.5,310.1 373.5,313.5 377.5,316.2 381.5,317.4 385.5,318.5 389.5,320.5 393.5,322.3 397.5,324.0 401.5,324.5 405.5,326.5 409.5,328.9 413.5,331.5 417.5,334.4 421.5,336.8 425.5,340.6 429.5,340.9 433.5,339.6 437.5,339.0 441.5,339.7 445.5,341.5 449.5,344.4 453.5,348.2 457.5,351.8 461.5,357.0 465.5,363.4 469.5,369.2 473.5,375.0 477.5,380.9 481.5,384.9 485.5,390.2 489.5,394.1 493.5,398.5 497.5,402.8 501.5,408.4 505.5,414.0 509.5,419.4 513.5,426.7 517.5,434.5 521.5,440.2 525.5,444.0 529.5,447.7 533.5,451.2 537.5,452.1 541.5,452.3 545.5,450.8 549.5,450.4 553.5,449.6 557.5,448.9 561.5,449.1 565.5,450.5 569.5,453.3 573.5,457.8 577.5,461.1 581.5,465.5 585.5,468.6 589.5,472.0 593.5,475.2 597.5,475.6 601.5,475.3 605.5,477.5 609.5,480.9 613.5,483.0 617.5,484.9 621.5,487.5 625.5,489.9 629.5,494.1 633.5,497.1 637.5,499.9 641.5,502.8 645.5,505.0 649.5,507.7 653.5,510.3 657.5,510.5 661.5,510.5 665.5,509.9 669.5,508.2 673.5,505.8 677.5,503.1 681.5,501.8 685.5,501.6 689.5,500.7 693.5,500.4 697.5,500.4 701.5,501.5 705.5,501.9 709.5,502.5 713.5,502.1 717.5,501.1 721.5,501.8 725.5,502.1 729.5,502.5 733.5,504.1 737.5,503.1 741.5,502.8 745.5,502.7 749.5,501.7 753.5,500.5 757.5,500.5 761.5,500.4 765.5,499.6 769.5,499.2 773.5,498.2 777.5,497.1 781.5,493.9 785.5,489.9 789.5,486.1 793.5,480.5 797.5,474.5 801.5,465.9 805.5,456.9 809.5,447.9 813.5,438.0 817.5,426.0 821.5,415.7 825.5,406.0 829.5,396.6 833.5,387.9 837.5,380.4 841.5,372.6 845.5,364.4 849.5,355.7 853.5,346.5 857.5,338.1 861.5,329.9 865.5,323.8 869.5,317.8 873.5,312.3 877.5,307.5 881.5,303.2 885.5,302.8 889.5,301.8 893.5,300.7 897.5,300.6 901.5,301.0 905.5,302.7 909.5,304.3 913.5,307.7 917.5,310.4 921.5,312.2 925.5,313.2 929.5,314.9 933.5,317.5 937.5,320.5 941.5,323.9 945.5,325.5 949.5,327.4 953.5,329.7 957.5,331.2 961.5,333.6 965.5,335.8 969.5,338.2 973.5,340.5 977.5,342.7 981.5,345.5 985.5,347.9 989.5,348.6 993.5,349.5 997.5,348.5 1001.5,347.6 1005.5,347.2 1009.5,347.7 1013.5,348.3 1017.5,347.7 1021.5,346.7 1025.5,345.2 1029.5,344.0 1033.5,339.8 1037.5,335.2 1041.5,324.5 1045.5,317.3 1049.5,308.6 1053.5,299.2 1057.5,289.4 1061.5,279.5 1065.5,273.2 1069.5,265.5 1073.5,258.1 1077.5,250.4 1081.5,241.8 1085.5,233.4 1089.5,225.2 1093.5,215.4 1097.5,203.5 1101.5,190.6 1105.5,178.4 1109.5,165.8 1113.5,155.3 1117.5,146.6 1121.5,136.9 1125.5,135.0 1129.5,130.8 1133.5,128.8" fill="none" stroke="#ffff00" stroke-width="1" shape-rendering="crispEdges"/>
<polyline points="5.5,412.2 9.5,407.4 13.5,403.7 17.5,398.0 21.5,393.4 25.5,385.6 29.5,380.1 33.5,370.3 37.5,367.9 41.5,366.8 45.5,367.6 49.5,368.0 53.5,368.9 57.5,365.6 61.5,369.9 65.5,370.9 69.5,372.6 73.5,374.7 77.5,374.8 81.5,378.6 85.5,382.7 89.5,389.0 93.5,390.1 97.5,389.0 101.5,386.7 105.5,383.8 109.5,381.8 113.5,385.6 117.5,382.6 121.5,377.1 125.5,371.1 129.5,367.7 133.5,368.7 137.5,369.1 141.5,368.4 145.5,367.3 149.5,365.9 153.5,363.6 157.5,362.4 161.5,361.8 165.5,361.2 169.5,358.1 173.5,354.3 177.5,353.2 181.5,352.8 185.5,348.8 189.5,344.6 193.5,338.2 197.5,335.9 201.5,332.1 205.5,328.6 209.5,326.2 213.5,323.4 217.5,318.6 221.5,315.1 225.5,310.9 229.5,308.1 233.5,304.3 237.5,300.6 241.5,298.6 245.5,294.4 249.5,291.6 253.5,284.9 257.5,285.0 261.5,287.0 265.5,286.9 269.5,287.6 273.5,289.3 277.5,289.3 281.5,289.1 285.5,287.5 289.5,287.9 293.5,288.6 297.5,290.3 301.5,293.9 305.5,296.4 309.5,298.9 313.5,298.2 317.5,295.7 321.5,293.6 325.5,291.7 329.5,289.7 333.5,289.6 337.5,290.5 341.5,291.6 345.5,296.4 349.5,302.4 353.5,306.5 357.5,309.4 361.5,312.9 365.5,314.9 369.5,317.6 373.5,321.7 377.5,326.1 381.5,329.1 385.5,332.7 389.5,336.1 393.5,338.1 397.5,341.9 401.5,338.8 405.5,335.6 409.5,333.9 413.5,332.8 417.5,333.4 421.5,335.6 425.5,337.4 429.5,337.5 433.5,337.5 437.5,339.0 441.5,341.3 445.5,344.4 449.5,348.0 453.5,353.9 457.5,362.7 461.5,371.8 465.5,380.7 469.5,389.3 473.5,397.0 477.5,404.2 481.5,408.4 485.5,412.8 489.5,417.4 493.5,423.0 497.5,427.5 501.5,433.7 505.5,440.1 509.5,444.2 513.5,449.9 517.5,453.8 521.5,454.2 525.5,453.4 529.5,453.5 533.5,453.4 537.5,454.6 541.5,455.9 545.5,456.8 549.5,458.6 553.5,459.4 557.5,457.7 561.5,456.8 565.5,455.0 569.5,452.6 573.5,452.3 577.5,454.4 581.5,459.8 585.5,465.1 589.5,471.4 593.5,478.8 597.5,484.9 601.5,490.5 605.5,494.9 609.5,500.4 613.5,504.6 617.5,507.2 621.5,510.1 625.5,510.9 629.5,511.2 633.5,512.6 637.5,511.1 641.5,509.0 645.5,506.4 649.5,503.8 653.5,504.6 657.5,505.2 661.5,503.9 665.5,503.4 669.5,502.9 673.5,502.6 677.5,502.2 681.5,502.7 685.5,501.9 689.5,500.4 693.5,501.1 697.5,500.9 701.5,501.9 705.5,501.5 709.5,499.2 713.5,498.6 717.5,498.5 721.5,498.9 725.5,499.9 729.5,501.4 733.5,505.4 737.5,506.4 741.5,506.9 745.5,506.9 749.5,505.4 753.5,503.2 757.5,501.3 761.5,499.9 765.5,498.4 769.5,497.4 773.5,496.1 777.5,494.1 781.5,488.6 785.5,483.0 789.5,474.4 793.5,465.4 797.5,456.1 801.5,443.2 805.5,431.6 809.5,420.9 813.5,407.6 817.5,393.7 821.5,380.5 825.5,367.2 829.5,354.4 833.5,341.6 837.5,332.9 841.5,325.3 845.5,317.4 849.5,311.3 853.5,305.4 857.5,304.4 861.5,303.6 865.5,302.4 869.5,302.8 873.5,303.9 877.5,303.1 881.5,301.9 885.5,302.6 889.5,302.5 893.5,301.4 897.5,299.6 901.5,298.6 905.5,301.0 909.5,304.0 913.5,308.9 917.5,312.3 921.5,315.5 925.5,318.4 929.5,321.4 933.5,326.3 937.5,331.4 941.5,336.0 945.5,339.0 949.5,342.4 953.5,346.4 957.5,349.1 961.5,349.4 965.5,349.2 969.5,348.4 973.5,347.6 977.5,347.2 981.5,347.9 985.5,348.2 989.5,347.6 993.5,347.4 997.5,345.6 1001.5,345.6 1005.5,345.3 1009.5,345.4 1013.5,347.0 1017.5,347.5 1021.5,347.6 1025.5,346.5 1029.5,344.3 1033.5,338.1 1037.5,331.1 1041.5,314.0 1045.5,302.4 1049.5,288.0 1053.5,274.5 1057.5,260.1 1061.5,245.7 1065.5,236.1 1069.5,224.1 1073.5,213.1 1077.5,202.9 1081.5,190.5 1085.5,179.6 1089.5,173.4 1093.5,165.7 1097.5,165.4 1101.5,157.6 1105.5,152.2 1109.5,146.4 1113.5,143.2 1117.5,138.7 1121.5,126.7 1125.5,118.2 1129.5,111.6 1133.5,105.6" fill="none" stroke="#ff0000" stroke-width="1" shape-rendering="crispEdges"/>
<polyline points="5.5,383.9 9.5,387.0 13.5,384.7 17.5,384.5 21.5,379.5 25.5,374.8 29.5,367.2 33.5,356.6 37.5,348.8 41.5,348.9 45.5,350.6 49.5,356.5 53.5,363.1 57.5,363.9 61.5,383.2 65.5,392.9 69.5,396.2 73.5,398.8 77.5,393.1 81.5,394.1 85.5,401.5 89.5,394.8 93.5,387.4 97.5,381.8 101.5,374.6 105.5,374.5 109.5,369.5 113.5,369.8 117.5,370.5 121.5,366.8 125.5,360.4 129.5,360.8 133.5,362.9 137.5,368.8 141.5,367.1 145.5,364.1 149.5,365.1 153.5,366.8 157.5,363.9 161.5,360.6 165.5,353.6 169.5,349.1 173.5,344.5 177.5,341.4 181.5,338.8 185.5,333.6 189.5,328.6 193.5,322.8 197.5,322.6 201.5,319.6 205.5,315.8 209.5,313.6 213.5,313.1 217.5,308.5 221.5,307.5 225.5,299.1 229.5,296.5 233.5,292.8 237.5,287.5 241.5,284.2 245.5,280.4 249.5,275.6 253.5,270.8 257.5,273.5 261.5,281.2 265.5,286.4 269.5,291.1 273.5,298.2 277.5,302.9 281.5,307.4 285.5,301.5 289.5,294.5 293.5,290.9 297.5,289.5 301.5,289.5 305.5,289.9 309.5,290.4 313.5,294.9 317.5,296.9 321.5,296.4 325.5,293.9 329.5,289.9 333.5,289.4 337.5,290.6 341.5,288.2 345.5,295.8 349.5,308.4 353.5,319.1 357.5,328.9 361.5,336.5 365.5,339.2 369.5,347.1 373.5,347.6 377.5,343.8 381.5,339.1 385.5,336.5 389.5,335.8 393.5,337.1 397.5,336.8 401.5,329.9 405.5,327.5 409.5,328.6 413.5,329.1 417.5,330.9 421.5,334.2 425.5,337.9 429.5,345.1 433.5,347.5 437.5,349.4 441.5,353.5 445.5,357.8 449.5,361.8 453.5,369.8 457.5,380.4 461.5,396.1 465.5,412.1 469.5,425.1 473.5,436.2 477.5,446.6 481.5,447.1 485.5,445.2 489.5,438.8 493.5,433.9 497.5,429.9 501.5,431.2 505.5,433.6 509.5,441.4 513.5,454.5 517.5,468.8 521.5,474.5 525.5,476.9 529.5,475.8 533.5,473.2 537.5,467.9 541.5,457.2 545.5,444.8 549.5,442.6 553.5,441.9 557.5,439.6 561.5,440.4 565.5,442.1 569.5,448.1 573.5,459.8 577.5,466.1 581.5,477.6 585.5,490.5 589.5,502.4 593.5,515.5 597.5,521.6 601.5,521.2 605.5,523.8 609.5,523.1 613.5,518.8 617.5,512.1 621.5,504.8 625.5,500.1 629.5,501.2 633.5,501.5 637.5,499.1 641.5,499.2 645.5,500.6 649.5,502.8 653.5,509.1 657.5,509.2 661.5,506.2 665.5,507.6 669.5,506.6 673.5,504.6 677.5,501.6 681.5,496.4 685.5,494.5 689.5,494.5 693.5,494.5 697.5,495.2 701.5,499.1 705.5,501.4 709.5,502.1 713.5,502.6 717.5,502.5 721.5,503.2 725.5,504.5 729.5,503.8 733.5,509.4 737.5,510.8 741.5,511.2 745.5,511.2 749.5,507.5 753.5,501.9 757.5,498.8 761.5,490.5 765.5,486.1 769.5,483.6 773.5,480.9 777.5,480.6 781.5,475.2 785.5,467.2 789.5,458.4 793.5,444.6 797.5,428.6 801.5,405.5 805.5,382.6 809.5,366.5 813.5,347.9 817.5,329.1 821.5,316.4 825.5,305.8 829.5,303.4 833.5,300.5 837.5,299.4 841.5,302.6 845.5,305.8 849.5,306.2 853.5,304.9 857.5,305.4 861.5,306.6 865.5,305.5 869.5,302.9 873.5,301.9 877.5,300.1 881.5,298.9 885.5,299.8 889.5,298.4 893.5,297.2 897.5,296.2 901.5,295.4 905.5,301.9 909.5,309.1 913.5,317.9 917.5,326.2 921.5,333.8 925.5,340.5 929.5,347.4 933.5,350.6 937.5,353.6 941.5,354.1 945.5,351.8 949.5,351.1 953.5,352.4 957.5,350.8 961.5,348.2 965.5,344.8 969.5,342.6 973.5,343.4 977.5,343.4 981.5,343.5 985.5,345.6 989.5,346.9 993.5,349.9 997.5,348.6 1001.5,347.8 1005.5,347.2 1009.5,347.4 1013.5,348.4 1017.5,348.1 1021.5,345.4 1025.5,344.4 1029.5,340.8 1033.5,328.9 1037.5,314.8 1041.5,279.6 1045.5,256.8 1049.5,230.6 1053.5,204.6 1057.5,179.5 1061.5,162.5 1065.5,157.4 1069.5,168.6 1073.5,169.4 1077.5,175.1 1081.5,176.4 1085.5,179.8 1089.5,184.2 1093.5,174.1 1097.5,162.2 1101.5,145.8 1105.5,129.4 1109.5,116.4 1113.5,106.6 1117.5,93.2 1121.5,79.4 1125.5,74.2 1129.5,77.4 1133.5,81.9" fill="none" stroke="#0000cd" stroke-width="1" shape-rendering="crispEdges"/>
<rect x="5" y="135" width="1415" height="3" fill="#ff0000" shape-rendering="crispEdges" />
<rect x="5" y="230" width="1415" height="3" fill="#00ff00" shape-rendering="crispEdges" />
<rect x="5" y="325" width="1415" height="3" fill="#0000ff" shape-rendering="crispEdges" />
<rect x="5" y="401" width="1415" height="3" fill="#0000ff" shape-rendering="crispEdges" />
<rect x="5" y="460" width="1415" height="3" fill="#0000ff" shape-rendering="crispEdges" />
<polygon points="1131,21 1140,21 1135.5,25.5" fill="#c0c0c0"/>
<rect x="4" y="20" width="1417" height="1" fill="#000" shape-rendering="crispEdges" />
<rect x="4" y="559" width="1417" height="1" fill="#000" shape-rendering="crispEdges" />
<rect x="4" y="20" width="1" height="540" fill="#000" shape-rendering="crispEdges" />
<rect x="1420" y="20" width="1" height="540" fill="#000" shape-rendering="crispEdges" />
<rect x="4" y="561" width="1417" height="1" fill="#000" shape-rendering="crispEdges" />
<rect x="4" y="664" width="1417" height="1" fill="#000" shape-rendering="crispEdges" />
<rect x="4" y="561" width="1" height="104" fill="#000" shape-rendering="crispEdges" />
<rect x="1420" y="561" width="1" height="104" fill="#000" shape-rendering="crispEdges" />
<rect x="4" y="666" width="1417" height="1" fill="#000" shape-rendering="crispEdges" />
<rect x="4" y="796" width="1417" height="1" fill="#000" shape-rendering="crispEdges" />
<rect x="4" y="666" width="1" height="131" fill="#000" shape-rendering="crispEdges" />
<rect x="1420" y="666" width="1" height="131" fill="#000" shape-rendering="crispEdges" />
<rect x="4" y="133" width="7" height="7" fill="#ff0000" shape-rendering="crispEdges" />
<rect x="7" y="136" width="1" height="1" fill="#ffffff" shape-rendering="crispEdges" />
<rect x="1414" y="133" width="7" height="7" fill="#ff0000" shape-rendering="crispEdges" />
<rect x="1417" y="136" width="1" height="1" fill="#ffffff" shape-rendering="crispEdges" />
<rect x="4" y="228" width="7" height="7" fill="#00ff00" shape-rendering="crispEdges" />
<rect x="7" y="231" width="1" height="1" fill="#ffffff" shape-rendering="crispEdges" />
<rect x="1414" y="228" width="7" height="7" fill="#00ff00" shape-rendering="crispEdges" />
<rect x="1417" y="231" width="1" height="1" fill="#ffffff" shape-rendering="crispEdges" />
<rect x="4" y="323" width="7" height="7" fill="#0000ff" shape-rendering="crispEdges" />
<rect x="7" y="326" width="1" height="1" fill="#ffffff" shape-rendering="crispEdges" />
<rect x="1414" y="323" width="7" height="7" fill="#0000ff" shape-rendering="crispEdges" />
<rect x="1417" y="326" width="1" height="1" fill="#ffffff" shape-rendering="crispEdges" />
<rect x="1421" y="28" width="2" height="1" fill="#000" shape-rendering="crispEdges" />
<text x="1426" y="32" font-size="10" fill="#000" stroke="#000" stroke-width="0.15" textLength="32.70" lengthAdjust="spacingAndGlyphs" >7.21390</text>
<rect x="1421" y="61" width="2" height="1" fill="#000" shape-rendering="crispEdges" />
<text x="1426" y="65" font-size="10" fill="#000" stroke="#000" stroke-width="0.15" textLength="32.70" lengthAdjust="spacingAndGlyphs" >7.17990</text>
<rect x="1421" y="94" width="2" height="1" fill="#000" shape-rendering="crispEdges" />
<text x="1426" y="98" font-size="10" fill="#000" stroke="#000" stroke-width="0.15" textLength="32.70" lengthAdjust="spacingAndGlyphs" >7.14490</text>
<rect x="1421" y="127" width="2" height="1" fill="#000" shape-rendering="crispEdges" />
<text x="1426" y="131" font-size="10" fill="#000" stroke="#000" stroke-width="0.15" textLength="32.70" lengthAdjust="spacingAndGlyphs" >7.10990</text>
<rect x="1421" y="160" width="2" height="1" fill="#000" shape-rendering="crispEdges" />
<text x="1426" y="164" font-size="10" fill="#000" stroke="#000" stroke-width="0.15" textLength="32.70" lengthAdjust="spacingAndGlyphs" >7.07490</text>
<rect x="1421" y="193" width="2" height="1" fill="#000" shape-rendering="crispEdges" />
<text x="1426" y="197" font-size="10" fill="#000" stroke="#000" stroke-width="0.15" textLength="32.70" lengthAdjust="spacingAndGlyphs" >7.04090</text>
<rect x="1421" y="226" width="2" height="1" fill="#000" shape-rendering="crispEdges" />
<text x="1426" y="230" font-size="10" fill="#000" stroke="#000" stroke-width="0.15" textLength="32.70" lengthAdjust="spacingAndGlyphs" >7.00590</text>
<rect x="1421" y="259" width="2" height="1" fill="#000" shape-rendering="crispEdges" />
<text x="1426" y="263" font-size="10" fill="#000" stroke="#000" stroke-width="0.15" textLength="32.70" lengthAdjust="spacingAndGlyphs" >6.97090</text>
<rect x="1421" y="292" width="2" height="1" fill="#000" shape-rendering="crispEdges" />
<text x="1426" y="296" font-size="10" fill="#000" stroke="#000" stroke-width="0.15" textLength="32.70" lengthAdjust="spacingAndGlyphs" >6.93590</text>
<rect x="1421" y="325" width="2" height="1" fill="#000" shape-rendering="crispEdges" />
<text x="1426" y="329" font-size="10" fill="#000" stroke="#000" stroke-width="0.15" textLength="32.70" lengthAdjust="spacingAndGlyphs" >6.90090</text>
<rect x="1421" y="358" width="2" height="1" fill="#000" shape-rendering="crispEdges" />
<text x="1426" y="362" font-size="10" fill="#000" stroke="#000" stroke-width="0.15" textLength="32.70" lengthAdjust="spacingAndGlyphs" >6.86690</text>
<rect x="1421" y="391" width="2" height="1" fill="#000" shape-rendering="crispEdges" />
<text x="1426" y="395" font-size="10" fill="#000" stroke="#000" stroke-width="0.15" textLength="32.70" lengthAdjust="spacingAndGlyphs" >6.83190</text>
<rect x="1421" y="424" width="2" height="1" fill="#000" shape-rendering="crispEdges" />
<text x="1426" y="428" font-size="10" fill="#000" stroke="#000" stroke-width="0.15" textLength="32.70" lengthAdjust="spacingAndGlyphs" >6.79790</text>
<rect x="1421" y="457" width="2" height="1" fill="#000" shape-rendering="crispEdges" />
<text x="1426" y="461" font-size="10" fill="#000" stroke="#000" stroke-width="0.15" textLength="32.70" lengthAdjust="spacingAndGlyphs" >6.76290</text>
<rect x="1421" y="490" width="2" height="1" fill="#000" shape-rendering="crispEdges" />
<text x="1426" y="494" font-size="10" fill="#000" stroke="#000" stroke-width="0.15" textLength="32.70" lengthAdjust="spacingAndGlyphs" >6.72790</text>
<rect x="1421" y="523" width="2" height="1" fill="#000" shape-rendering="crispEdges" />
<text x="1426" y="527" font-size="10" fill="#000" stroke="#000" stroke-width="0.15" textLength="32.70" lengthAdjust="spacingAndGlyphs" >6.69290</text>
<rect x="1421" y="556" width="2" height="1" fill="#000" shape-rendering="crispEdges" />
<text x="1426" y="560" font-size="10" fill="#000" stroke="#000" stroke-width="0.15" textLength="32.70" lengthAdjust="spacingAndGlyphs" >6.65890</text>
<rect x="1422" y="103" width="41" height="11" fill="#000000" shape-rendering="crispEdges" />
<text x="1426" y="112" font-size="10" fill="#ffffff" stroke="#ffffff" stroke-width="0.15" textLength="32.70" lengthAdjust="spacingAndGlyphs" >7.13023</text>
<rect x="1422" y="130" width="41" height="11" fill="#ff0000" shape-rendering="crispEdges" />
<text x="1426" y="139" font-size="10" fill="#ffffff" stroke="#ffffff" stroke-width="0.15" textLength="32.70" lengthAdjust="spacingAndGlyphs" >7.10044</text>
<rect x="1422" y="225" width="41" height="11" fill="#00ff00" shape-rendering="crispEdges" />
<text x="1426" y="234" font-size="10" fill="#ffffff" stroke="#ffffff" stroke-width="0.15" textLength="32.70" lengthAdjust="spacingAndGlyphs" >7.00092</text>
<rect x="1422" y="320" width="41" height="11" fill="#0000ff" shape-rendering="crispEdges" />
<text x="1426" y="329" font-size="10" fill="#ffffff" stroke="#ffffff" stroke-width="0.15" textLength="32.70" lengthAdjust="spacingAndGlyphs" >6.90100</text>
<rect x="1422" y="396" width="41" height="11" fill="#0000ff" shape-rendering="crispEdges" />
<text x="1426" y="405" font-size="10" fill="#ffffff" stroke="#ffffff" stroke-width="0.15" textLength="32.70" lengthAdjust="spacingAndGlyphs" >6.82103</text>
<rect x="1422" y="455" width="41" height="11" fill="#0000ff" shape-rendering="crispEdges" />
<text x="1426" y="464" font-size="10" fill="#ffffff" stroke="#ffffff" stroke-width="0.15" textLength="32.70" lengthAdjust="spacingAndGlyphs" >6.75804</text>
<polygon points="8,31 15,31 11.5,27" fill="#000"/>
<text x="20.5" y="32" font-size="10" fill="#000" stroke="#000" stroke-width="0.15" textLength="68.00" lengthAdjust="spacingAndGlyphs" >USDCNH-,Daily</text>
<text x="95" y="32" font-size="10" fill="#000" stroke="#000" stroke-width="0.15" textLength="141.00" lengthAdjust="spacingAndGlyphs" >7.14464 7.14931 7.12013 7.13023</text>
<g shape-rendering="crispEdges">
<rect x="5" y="570" width="1" height="60" fill="#c0c0c0"/>
<rect x="9" y="575" width="1" height="55" fill="#c0c0c0"/>
<rect x="13" y="579" width="1" height="51" fill="#c0c0c0"/>
<rect x="17" y="580" width="1" height="50" fill="#c0c0c0"/>
<rect x="21" y="581" width="1" height="49" fill="#c0c0c0"/>
<rect x="25" y="580" width="1" height="50" fill="#c0c0c0"/>
<rect x="29" y="580" width="1" height="50" fill="#c0c0c0"/>
<rect x="33" y="577" width="1" height="53" fill="#c0c0c0"/>
<rect x="37" y="581" width="1" height="49" fill="#c0c0c0"/>
<rect x="41" y="587" width="1" height="43" fill="#c0c0c0"/>
<rect x="45" y="592" width="1" height="38" fill="#c0c0c0"/>
<rect x="49" y="596" width="1" height="34" fill="#c0c0c0"/>
<rect x="53" y="599" width="1" height="31" fill="#c0c0c0"/>
<rect x="57" y="598" width="1" height="32" fill="#c0c0c0"/>
<rect x="61" y="604" width="1" height="26" fill="#c0c0c0"/>
<rect x="65" y="610" width="1" height="20" fill="#c0c0c0"/>
<rect x="69" y="614" width="1" height="16" fill="#c0c0c0"/>
<rect x="73" y="616" width="1" height="14" fill="#c0c0c0"/>
<rect x="77" y="615" width="1" height="15" fill="#c0c0c0"/>
<rect x="81" y="615" width="1" height="15" fill="#c0c0c0"/>
<rect x="85" y="617" width="1" height="13" fill="#c0c0c0"/>
<rect x="89" y="617" width="1" height="13" fill="#c0c0c0"/>
<rect x="93" y="617" width="1" height="13" fill="#c0c0c0"/>
<rect x="97" y="618" width="1" height="12" fill="#c0c0c0"/>
<rect x="101" y="617" width="1" height="13" fill="#c0c0c0"/>
<rect x="105" y="616" width="1" height="14" fill="#c0c0c0"/>
<rect x="109" y="615" width="1" height="15" fill="#c0c0c0"/>
<rect x="113" y="617" width="1" height="13" fill="#c0c0c0"/>
<rect x="117" y="619" width="1" height="11" fill="#c0c0c0"/>
<rect x="121" y="618" width="1" height="12" fill="#c0c0c0"/>
<rect x="125" y="616" width="1" height="14" fill="#c0c0c0"/>
<rect x="129" y="617" width="1" height="13" fill="#c0c0c0"/>
<rect x="133" y="618" width="1" height="12" fill="#c0c0c0"/>
<rect x="137" y="621" width="1" height="9" fill="#c0c0c0"/>
<rect x="141" y="622" width="1" height="8" fill="#c0c0c0"/>
<rect x="145" y="622" width="1" height="8" fill="#c0c0c0"/>
<rect x="149" y="621" width="1" height="9" fill="#c0c0c0"/>
<rect x="153" y="620" width="1" height="10" fill="#c0c0c0"/>
<rect x="157" y="619" width="1" height="11" fill="#c0c0c0"/>
<rect x="161" y="619" width="1" height="11" fill="#c0c0c0"/>
<rect x="165" y="619" width="1" height="11" fill="#c0c0c0"/>
<rect x="169" y="619" width="1" height="11" fill="#c0c0c0"/>
<rect x="173" y="618" width="1" height="12" fill="#c0c0c0"/>
<rect x="177" y="617" width="1" height="13" fill="#c0c0c0"/>
<rect x="181" y="617" width="1" height="13" fill="#c0c0c0"/>
<rect x="185" y="615" width="1" height="15" fill="#c0c0c0"/>
<rect x="189" y="615" width="1" height="15" fill="#c0c0c0"/>
<rect x="193" y="613" width="1" height="17" fill="#c0c0c0"/>
<rect x="197" y="615" width="1" height="15" fill="#c0c0c0"/>
<rect x="201" y="614" width="1" height="16" fill="#c0c0c0"/>
<rect x="205" y="614" width="1" height="16" fill="#c0c0c0"/>
<rect x="209" y="615" width="1" height="15" fill="#c0c0c0"/>
<rect x="213" y="614" width="1" height="16" fill="#c0c0c0"/>
<rect x="217" y="613" width="1" height="17" fill="#c0c0c0"/>
<rect x="221" y="612" width="1" height="18" fill="#c0c0c0"/>
<rect x="225" y="612" width="1" height="18" fill="#c0c0c0"/>
<rect x="229" y="612" width="1" height="18" fill="#c0c0c0"/>
<rect x="233" y="611" width="1" height="19" fill="#c0c0c0"/>
<rect x="237" y="611" width="1" height="19" fill="#c0c0c0"/>
<rect x="241" y="611" width="1" height="19" fill="#c0c0c0"/>
<rect x="245" y="610" width="1" height="20" fill="#c0c0c0"/>
<rect x="249" y="609" width="1" height="21" fill="#c0c0c0"/>
<rect x="253" y="608" width="1" height="22" fill="#c0c0c0"/>
<rect x="257" y="612" width="1" height="18" fill="#c0c0c0"/>
<rect x="261" y="617" width="1" height="13" fill="#c0c0c0"/>
<rect x="265" y="619" width="1" height="11" fill="#c0c0c0"/>
<rect x="269" y="621" width="1" height="9" fill="#c0c0c0"/>
<rect x="273" y="623" width="1" height="7" fill="#c0c0c0"/>
<rect x="277" y="623" width="1" height="7" fill="#c0c0c0"/>
<rect x="281" y="622" width="1" height="8" fill="#c0c0c0"/>
<rect x="285" y="621" width="1" height="9" fill="#c0c0c0"/>
<rect x="289" y="621" width="1" height="9" fill="#c0c0c0"/>
<rect x="293" y="621" width="1" height="9" fill="#c0c0c0"/>
<rect x="297" y="623" width="1" height="7" fill="#c0c0c0"/>
<rect x="301" y="624" width="1" height="6" fill="#c0c0c0"/>
<rect x="305" y="625" width="1" height="5" fill="#c0c0c0"/>
<rect x="309" y="625" width="1" height="5" fill="#c0c0c0"/>
<rect x="313" y="625" width="1" height="5" fill="#c0c0c0"/>
<rect x="317" y="626" width="1" height="4" fill="#c0c0c0"/>
<rect x="321" y="626" width="1" height="4" fill="#c0c0c0"/>
<rect x="325" y="625" width="1" height="5" fill="#c0c0c0"/>
<rect x="329" y="625" width="1" height="5" fill="#c0c0c0"/>
<rect x="333" y="625" width="1" height="5" fill="#c0c0c0"/>
<rect x="337" y="626" width="1" height="4" fill="#c0c0c0"/>
<rect x="341" y="625" width="1" height="5" fill="#c0c0c0"/>
<rect x="345" y="629" width="1" height="1" fill="#c0c0c0"/>
<rect x="349" y="629" width="1" height="6" fill="#c0c0c0"/>
<rect x="353" y="629" width="1" height="10" fill="#c0c0c0"/>
<rect x="357" y="629" width="1" height="11" fill="#c0c0c0"/>
<rect x="361" y="629" width="1" height="12" fill="#c0c0c0"/>
<rect x="365" y="629" width="1" height="10" fill="#c0c0c0"/>
<rect x="369" y="629" width="1" height="10" fill="#c0c0c0"/>
<rect x="373" y="629" width="1" height="12" fill="#c0c0c0"/>
<rect x="377" y="629" width="1" height="12" fill="#c0c0c0"/>
<rect x="381" y="629" width="1" height="11" fill="#c0c0c0"/>
<rect x="385" y="629" width="1" height="10" fill="#c0c0c0"/>
<rect x="389" y="629" width="1" height="10" fill="#c0c0c0"/>
<rect x="393" y="629" width="1" height="8" fill="#c0c0c0"/>
<rect x="397" y="629" width="1" height="8" fill="#c0c0c0"/>
<rect x="401" y="629" width="1" height="6" fill="#c0c0c0"/>
<rect x="405" y="629" width="1" height="5" fill="#c0c0c0"/>
<rect x="409" y="629" width="1" height="5" fill="#c0c0c0"/>
<rect x="413" y="629" width="1" height="5" fill="#c0c0c0"/>
<rect x="417" y="629" width="1" height="6" fill="#c0c0c0"/>
<rect x="421" y="629" width="1" height="7" fill="#c0c0c0"/>
<rect x="425" y="629" width="1" height="8" fill="#c0c0c0"/>
<rect x="429" y="629" width="1" height="9" fill="#c0c0c0"/>
<rect x="433" y="629" width="1" height="9" fill="#c0c0c0"/>
<rect x="437" y="629" width="1" height="8" fill="#c0c0c0"/>
<rect x="441" y="629" width="1" height="9" fill="#c0c0c0"/>
<rect x="445" y="629" width="1" height="11" fill="#c0c0c0"/>
<rect x="449" y="629" width="1" height="12" fill="#c0c0c0"/>
<rect x="453" y="629" width="1" height="15" fill="#c0c0c0"/>
<rect x="457" y="629" width="1" height="19" fill="#c0c0c0"/>
<rect x="461" y="629" width="1" height="24" fill="#c0c0c0"/>
<rect x="465" y="629" width="1" height="27" fill="#c0c0c0"/>
<rect x="469" y="629" width="1" height="29" fill="#c0c0c0"/>
<rect x="473" y="629" width="1" height="31" fill="#c0c0c0"/>
<rect x="477" y="629" width="1" height="31" fill="#c0c0c0"/>
<rect x="481" y="629" width="1" height="28" fill="#c0c0c0"/>
<rect x="485" y="629" width="1" height="26" fill="#c0c0c0"/>
<rect x="489" y="629" width="1" height="24" fill="#c0c0c0"/>
<rect x="493" y="629" width="1" height="23" fill="#c0c0c0"/>
<rect x="497" y="629" width="1" height="21" fill="#c0c0c0"/>
<rect x="501" y="629" width="1" height="23" fill="#c0c0c0"/>
<rect x="505" y="629" width="1" height="24" fill="#c0c0c0"/>
<rect x="509" y="629" width="1" height="25" fill="#c0c0c0"/>
<rect x="513" y="629" width="1" height="29" fill="#c0c0c0"/>
<rect x="517" y="629" width="1" height="31" fill="#c0c0c0"/>
<rect x="521" y="629" width="1" height="29" fill="#c0c0c0"/>
<rect x="525" y="629" width="1" height="25" fill="#c0c0c0"/>
<rect x="529" y="629" width="1" height="24" fill="#c0c0c0"/>
<rect x="533" y="629" width="1" height="21" fill="#c0c0c0"/>
<rect x="537" y="629" width="1" height="18" fill="#c0c0c0"/>
<rect x="541" y="629" width="1" height="16" fill="#c0c0c0"/>
<rect x="545" y="629" width="1" height="13" fill="#c0c0c0"/>
<rect x="549" y="629" width="1" height="12" fill="#c0c0c0"/>
<rect x="553" y="629" width="1" height="10" fill="#c0c0c0"/>
<rect x="557" y="629" width="1" height="10" fill="#c0c0c0"/>
<rect x="561" y="629" width="1" height="9" fill="#c0c0c0"/>
<rect x="565" y="629" width="1" height="9" fill="#c0c0c0"/>
<rect x="569" y="629" width="1" height="11" fill="#c0c0c0"/>
<rect x="573" y="629" width="1" height="14" fill="#c0c0c0"/>
<rect x="577" y="629" width="1" height="15" fill="#c0c0c0"/>
<rect x="581" y="629" width="1" height="18" fill="#c0c0c0"/>
<rect x="585" y="629" width="1" height="21" fill="#c0c0c0"/>
<rect x="589" y="629" width="1" height="23" fill="#c0c0c0"/>
<rect x="593" y="629" width="1" height="25" fill="#c0c0c0"/>
<rect x="597" y="629" width="1" height="25" fill="#c0c0c0"/>
<rect x="601" y="629" width="1" height="23" fill="#c0c0c0"/>
<rect x="605" y="629" width="1" height="22" fill="#c0c0c0"/>
<rect x="609" y="629" width="1" height="21" fill="#c0c0c0"/>
<rect x="613" y="629" width="1" height="20" fill="#c0c0c0"/>
<rect x="617" y="629" width="1" height="17" fill="#c0c0c0"/>
<rect x="621" y="629" width="1" height="15" fill="#c0c0c0"/>
<rect x="625" y="629" width="1" height="13" fill="#c0c0c0"/>
<rect x="629" y="629" width="1" height="13" fill="#c0c0c0"/>
<rect x="633" y="629" width="1" height="13" fill="#c0c0c0"/>
<rect x="637" y="629" width="1" height="12" fill="#c0c0c0"/>
<rect x="641" y="629" width="1" height="11" fill="#c0c0c0"/>
<rect x="645" y="629" width="1" height="10" fill="#c0c0c0"/>
<rect x="649" y="629" width="1" height="9" fill="#c0c0c0"/>
<rect x="653" y="629" width="1" height="11" fill="#c0c0c0"/>
<rect x="657" y="629" width="1" height="11" fill="#c0c0c0"/>
<rect x="661" y="629" width="1" height="9" fill="#c0c0c0"/>
<rect x="665" y="629" width="1" height="8" fill="#c0c0c0"/>
<rect x="669" y="629" width="1" height="7" fill="#c0c0c0"/>
<rect x="673" y="629" width="1" height="5" fill="#c0c0c0"/>
<rect x="677" y="629" width="1" height="4" fill="#c0c0c0"/>
<rect x="681" y="629" width="1" height="3" fill="#c0c0c0"/>
<rect x="685" y="629" width="1" height="3" fill="#c0c0c0"/>
<rect x="689" y="629" width="1" height="2" fill="#c0c0c0"/>
<rect x="693" y="629" width="1" height="3" fill="#c0c0c0"/>
<rect x="697" y="629" width="1" height="3" fill="#c0c0c0"/>
<rect x="701" y="629" width="1" height="4" fill="#c0c0c0"/>
<rect x="705" y="629" width="1" height="3" fill="#c0c0c0"/>
<rect x="709" y="629" width="1" height="3" fill="#c0c0c0"/>
<rect x="713" y="629" width="1" height="3" fill="#c0c0c0"/>
<rect x="717" y="629" width="1" height="2" fill="#c0c0c0"/>
<rect x="721" y="629" width="1" height="3" fill="#c0c0c0"/>
<rect x="725" y="629" width="1" height="4" fill="#c0c0c0"/>
<rect x="729" y="629" width="1" height="3" fill="#c0c0c0"/>
<rect x="733" y="629" width="1" height="6" fill="#c0c0c0"/>
<rect x="737" y="629" width="1" height="6" fill="#c0c0c0"/>
<rect x="741" y="629" width="1" height="5" fill="#c0c0c0"/>
<rect x="745" y="629" width="1" height="3" fill="#c0c0c0"/>
<rect x="749" y="629" width="1" height="2" fill="#c0c0c0"/>
<rect x="753" y="628" width="1" height="2" fill="#c0c0c0"/>
<rect x="757" y="627" width="1" height="3" fill="#c0c0c0"/>
<rect x="761" y="626" width="1" height="4" fill="#c0c0c0"/>
<rect x="765" y="626" width="1" height="4" fill="#c0c0c0"/>
<rect x="769" y="626" width="1" height="4" fill="#c0c0c0"/>
<rect x="773" y="625" width="1" height="5" fill="#c0c0c0"/>
<rect x="777" y="625" width="1" height="5" fill="#c0c0c0"/>
<rect x="781" y="621" width="1" height="9" fill="#c0c0c0"/>
<rect x="785" y="618" width="1" height="12" fill="#c0c0c0"/>
<rect x="789" y="615" width="1" height="15" fill="#c0c0c0"/>
<rect x="793" y="611" width="1" height="19" fill="#c0c0c0"/>
<rect x="797" y="607" width="1" height="23" fill="#c0c0c0"/>
<rect x="801" y="599" width="1" height="31" fill="#c0c0c0"/>
<rect x="805" y="595" width="1" height="35" fill="#c0c0c0"/>
<rect x="809" y="591" width="1" height="39" fill="#c0c0c0"/>
<rect x="813" y="587" width="1" height="43" fill="#c0c0c0"/>
<rect x="817" y="584" width="1" height="46" fill="#c0c0c0"/>
<rect x="821" y="582" width="1" height="48" fill="#c0c0c0"/>
<rect x="825" y="582" width="1" height="48" fill="#c0c0c0"/>
<rect x="829" y="582" width="1" height="48" fill="#c0c0c0"/>
<rect x="833" y="583" width="1" height="47" fill="#c0c0c0"/>
<rect x="837" y="585" width="1" height="45" fill="#c0c0c0"/>
<rect x="841" y="588" width="1" height="42" fill="#c0c0c0"/>
<rect x="845" y="590" width="1" height="40" fill="#c0c0c0"/>
<rect x="849" y="591" width="1" height="39" fill="#c0c0c0"/>
<rect x="853" y="592" width="1" height="38" fill="#c0c0c0"/>
<rect x="857" y="593" width="1" height="37" fill="#c0c0c0"/>
<rect x="861" y="596" width="1" height="34" fill="#c0c0c0"/>
<rect x="865" y="598" width="1" height="32" fill="#c0c0c0"/>
<rect x="869" y="599" width="1" height="31" fill="#c0c0c0"/>
<rect x="873" y="601" width="1" height="29" fill="#c0c0c0"/>
<rect x="877" y="601" width="1" height="29" fill="#c0c0c0"/>
<rect x="881" y="602" width="1" height="28" fill="#c0c0c0"/>
<rect x="885" y="604" width="1" height="26" fill="#c0c0c0"/>
<rect x="889" y="606" width="1" height="24" fill="#c0c0c0"/>
<rect x="893" y="607" width="1" height="23" fill="#c0c0c0"/>
<rect x="897" y="608" width="1" height="22" fill="#c0c0c0"/>
<rect x="901" y="610" width="1" height="20" fill="#c0c0c0"/>
<rect x="905" y="613" width="1" height="17" fill="#c0c0c0"/>
<rect x="909" y="617" width="1" height="13" fill="#c0c0c0"/>
<rect x="913" y="622" width="1" height="8" fill="#c0c0c0"/>
<rect x="917" y="625" width="1" height="5" fill="#c0c0c0"/>
<rect x="921" y="627" width="1" height="3" fill="#c0c0c0"/>
<rect x="925" y="629" width="1" height="1" fill="#c0c0c0"/>
<rect x="929" y="629" width="1" height="1" fill="#c0c0c0"/>
<rect x="933" y="629" width="1" height="2" fill="#c0c0c0"/>
<rect x="937" y="629" width="1" height="3" fill="#c0c0c0"/>
<rect x="941" y="629" width="1" height="5" fill="#c0c0c0"/>
<rect x="945" y="629" width="1" height="5" fill="#c0c0c0"/>
<rect x="949" y="629" width="1" height="5" fill="#c0c0c0"/>
<rect x="953" y="629" width="1" height="5" fill="#c0c0c0"/>
<rect x="957" y="629" width="1" height="4" fill="#c0c0c0"/>
<rect x="961" y="629" width="1" height="3" fill="#c0c0c0"/>
<rect x="965" y="629" width="1" height="2" fill="#c0c0c0"/>
<rect x="969" y="629" width="1" height="3" fill="#c0c0c0"/>
<rect x="973" y="629" width="1" height="3" fill="#c0c0c0"/>
<rect x="977" y="629" width="1" height="3" fill="#c0c0c0"/>
<rect x="981" y="629" width="1" height="4" fill="#c0c0c0"/>
<rect x="985" y="629" width="1" height="3" fill="#c0c0c0"/>
<rect x="989" y="629" width="1" height="3" fill="#c0c0c0"/>
<rect x="993" y="629" width="1" height="4" fill="#c0c0c0"/>
<rect x="997" y="629" width="1" height="3" fill="#c0c0c0"/>
<rect x="1001" y="629" width="1" height="3" fill="#c0c0c0"/>
<rect x="1005" y="629" width="1" height="2" fill="#c0c0c0"/>
<rect x="1009" y="629" width="1" height="3" fill="#c0c0c0"/>
<rect x="1013" y="629" width="1" height="3" fill="#c0c0c0"/>
<rect x="1017" y="629" width="1" height="3" fill="#c0c0c0"/>
<rect x="1021" y="629" width="1" height="2" fill="#c0c0c0"/>
<rect x="1025" y="629" width="1" height="1" fill="#c0c0c0"/>
<rect x="1029" y="628" width="1" height="2" fill="#c0c0c0"/>
<rect x="1033" y="622" width="1" height="8" fill="#c0c0c0"/>
<rect x="1037" y="618" width="1" height="12" fill="#c0c0c0"/>
<rect x="1041" y="604" width="1" height="26" fill="#c0c0c0"/>
<rect x="1045" y="598" width="1" height="32" fill="#c0c0c0"/>
<rect x="1049" y="592" width="1" height="38" fill="#c0c0c0"/>
<rect x="1053" y="588" width="1" height="42" fill="#c0c0c0"/>
<rect x="1057" y="585" width="1" height="45" fill="#c0c0c0"/>
<rect x="1061" y="582" width="1" height="48" fill="#c0c0c0"/>
<rect x="1065" y="586" width="1" height="44" fill="#c0c0c0"/>
<rect x="1069" y="588" width="1" height="42" fill="#c0c0c0"/>
<rect x="1073" y="590" width="1" height="40" fill="#c0c0c0"/>
<rect x="1077" y="592" width="1" height="38" fill="#c0c0c0"/>
<rect x="1081" y="592" width="1" height="38" fill="#c0c0c0"/>
<rect x="1085" y="592" width="1" height="38" fill="#c0c0c0"/>
<rect x="1089" y="594" width="1" height="36" fill="#c0c0c0"/>
<rect x="1093" y="593" width="1" height="37" fill="#c0c0c0"/>
<rect x="1097" y="590" width="1" height="40" fill="#c0c0c0"/>
<rect x="1101" y="587" width="1" height="43" fill="#c0c0c0"/>
<rect x="1105" y="584" width="1" height="46" fill="#c0c0c0"/>
<rect x="1109" y="582" width="1" height="48" fill="#c0c0c0"/>
<rect x="1113" y="583" width="1" height="47" fill="#c0c0c0"/>
<rect x="1117" y="583" width="1" height="47" fill="#c0c0c0"/>
<rect x="1121" y="582" width="1" height="48" fill="#c0c0c0"/>
<rect x="1125" y="582" width="1" height="48" fill="#c0c0c0"/>
<rect x="1129" y="585" width="1" height="45" fill="#c0c0c0"/>
<rect x="1133" y="589" width="1" height="41" fill="#c0c0c0"/>
</g>
<polyline points="5.5,566.9 9.5,568.2 13.5,569.7 17.5,571.4 21.5,573.1 25.5,574.6 29.5,575.9 33.5,576.9 37.5,578.1 41.5,579.9 45.5,581.7 49.5,583.7 53.5,585.8 57.5,587.7 61.5,590.4 65.5,593.8 69.5,597.9 73.5,601.8 77.5,604.9 81.5,607.6 85.5,609.8 89.5,611.8 93.5,613.9 97.5,615.3 101.5,616.1 105.5,616.4 109.5,616.2 113.5,616.5 117.5,616.9 121.5,617.0 125.5,616.9 129.5,616.9 133.5,617.0 137.5,617.4 141.5,618.0 145.5,618.7 149.5,619.2 153.5,619.4 157.5,619.5 161.5,619.9 165.5,620.2 169.5,620.3 173.5,619.9 177.5,619.4 181.5,618.9 185.5,618.3 189.5,617.6 193.5,616.9 197.5,616.4 201.5,615.9 205.5,615.4 209.5,615.1 213.5,614.7 217.5,614.2 221.5,613.9 225.5,613.6 229.5,613.4 233.5,613.0 237.5,612.6 241.5,612.3 245.5,611.8 249.5,611.2 253.5,610.7 257.5,610.7 261.5,611.3 265.5,612.2 269.5,613.3 273.5,614.5 277.5,615.8 281.5,617.2 285.5,618.5 289.5,619.9 293.5,620.9 297.5,621.6 301.5,622.1 305.5,622.5 309.5,622.7 313.5,623.0 317.5,623.5 321.5,624.0 325.5,624.5 329.5,624.9 333.5,625.1 337.5,625.3 341.5,625.3 345.5,626.0 349.5,627.1 353.5,628.5 357.5,630.1 361.5,631.8 365.5,633.4 369.5,634.9 373.5,636.6 377.5,638.3 381.5,639.4 385.5,639.7 389.5,639.7 393.5,639.4 397.5,639.0 401.5,638.5 405.5,638.0 409.5,637.3 413.5,636.5 417.5,636.1 421.5,635.8 425.5,635.6 429.5,635.7 433.5,635.8 437.5,636.1 441.5,636.6 445.5,637.2 449.5,637.9 453.5,638.9 457.5,640.3 461.5,642.0 465.5,644.0 469.5,646.2 473.5,648.7 477.5,651.1 481.5,653.0 485.5,654.6 489.5,655.5 493.5,655.9 497.5,655.6 501.5,655.2 505.5,654.6 509.5,654.0 513.5,653.8 517.5,654.1 521.5,654.4 525.5,654.6 529.5,654.7 533.5,654.7 537.5,654.1 541.5,653.2 545.5,651.8 549.5,650.0 553.5,647.7 557.5,645.6 561.5,643.8 565.5,642.2 569.5,641.0 573.5,640.5 577.5,640.4 581.5,641.0 585.5,642.0 589.5,643.3 593.5,645.0 597.5,646.8 601.5,648.4 605.5,649.6 609.5,650.5 613.5,651.0 617.5,650.9 621.5,650.2 625.5,649.1 629.5,647.7 633.5,646.4 637.5,645.1 641.5,643.9 645.5,642.6 649.5,641.5 653.5,640.8 657.5,640.4 661.5,639.9 665.5,639.4 669.5,638.7 673.5,638.0 677.5,637.2 681.5,636.5 685.5,635.8 689.5,634.8 693.5,634.0 697.5,633.3 701.5,632.8 705.5,632.4 709.5,632.2 713.5,632.1 717.5,632.0 721.5,632.0 725.5,632.1 729.5,632.2 733.5,632.5 737.5,632.7 741.5,632.8 745.5,632.9 749.5,632.7 753.5,632.4 757.5,631.9 761.5,631.2 765.5,630.5 769.5,629.5 773.5,628.4 777.5,627.4 781.5,626.2 785.5,624.8 789.5,623.3 793.5,621.5 797.5,619.3 801.5,616.4 805.5,612.9 809.5,609.2 813.5,605.0 817.5,600.8 821.5,596.9 825.5,593.2 829.5,590.0 833.5,587.4 837.5,585.8 841.5,585.1 845.5,584.9 849.5,585.3 853.5,586.2 857.5,587.3 861.5,588.8 865.5,590.5 869.5,592.3 873.5,594.0 877.5,595.5 881.5,596.9 885.5,598.3 889.5,599.9 893.5,601.5 897.5,602.9 901.5,604.3 905.5,605.8 909.5,607.6 913.5,609.9 917.5,612.5 921.5,615.1 925.5,617.6 929.5,620.0 933.5,622.6 937.5,625.1 941.5,627.4 945.5,629.3 949.5,630.7 953.5,631.7 957.5,632.3 961.5,632.6 965.5,632.8 969.5,632.9 973.5,632.9 977.5,632.7 981.5,632.5 985.5,632.4 989.5,632.2 993.5,632.2 997.5,632.2 1001.5,632.2 1005.5,632.2 1009.5,632.1 1013.5,632.1 1017.5,632.0 1021.5,631.8 1025.5,631.6 1029.5,631.1 1033.5,630.0 1037.5,628.4 1041.5,625.3 1045.5,621.6 1049.5,617.2 1053.5,612.4 1057.5,607.3 1061.5,602.0 1065.5,597.3 1069.5,593.5 1073.5,590.4 1077.5,589.0 1081.5,588.3 1085.5,588.3 1089.5,588.9 1093.5,589.9 1097.5,590.8 1101.5,590.8 1105.5,590.4 1109.5,589.6 1113.5,588.7 1117.5,587.7 1121.5,586.6 1125.5,585.3 1129.5,584.4 1133.5,584.3" fill="none" stroke="#ff0000" stroke-width="1" stroke-dasharray="3,3" shape-rendering="crispEdges"/>
<text x="9" y="574" font-size="10" fill="#000" stroke="#000" stroke-width="0.15" textLength="147.60" lengthAdjust="spacingAndGlyphs" >MACD(12,26,9) 0.047546 0.053272</text>
<rect x="1421" y="563" width="2" height="1" fill="#000" shape-rendering="crispEdges" />
<rect x="1421" y="629" width="2" height="1" fill="#000" shape-rendering="crispEdges" />
<rect x="1421" y="663" width="2" height="1" fill="#000" shape-rendering="crispEdges" />
<text x="1424" y="572" font-size="10" fill="#000" stroke="#000" stroke-width="0.15" textLength="37.74" lengthAdjust="spacingAndGlyphs" >0.078658</text>
<text x="1424" y="633" font-size="10" fill="#000" stroke="#000" stroke-width="0.15" textLength="17.61" lengthAdjust="spacingAndGlyphs" >0.00</text>
<text x="1424" y="661" font-size="10" fill="#000" stroke="#000" stroke-width="0.15" textLength="40.76" lengthAdjust="spacingAndGlyphs" >-0.041287</text>
<line x1="5" y1="706.5" x2="1420" y2="706.5" stroke="#c0c0c0" stroke-width="1" stroke-dasharray="3,3" shape-rendering="crispEdges"/>
<line x1="5" y1="757.5" x2="1420" y2="757.5" stroke="#c0c0c0" stroke-width="1" stroke-dasharray="3,3" shape-rendering="crispEdges"/>
<polyline points="5.5,708.2 9.5,721.2 13.5,718.2 17.5,715.8 21.5,713.2 25.5,709.3 29.5,709.6 33.5,704.4 37.5,721.4 41.5,728.1 45.5,727.1 49.5,729.0 53.5,724.8 57.5,718.9 61.5,734.1 65.5,735.0 69.5,733.5 73.5,731.6 77.5,723.9 81.5,727.9 85.5,729.0 89.5,726.8 93.5,727.0 97.5,727.9 101.5,723.7 105.5,723.9 109.5,721.5 113.5,732.1 117.5,729.9 121.5,723.7 125.5,720.9 129.5,727.4 133.5,730.5 137.5,733.7 141.5,731.3 145.5,726.9 149.5,726.5 153.5,724.1 157.5,722.7 161.5,725.9 165.5,722.8 169.5,725.2 173.5,720.2 177.5,723.1 181.5,721.5 185.5,715.5 189.5,719.7 193.5,715.3 197.5,730.9 201.5,721.7 205.5,722.3 209.5,724.1 213.5,721.0 217.5,717.2 221.5,719.6 225.5,718.4 229.5,719.2 233.5,717.6 237.5,716.2 241.5,716.7 245.5,711.0 249.5,711.6 253.5,710.0 257.5,733.0 261.5,741.2 265.5,733.8 269.5,733.2 273.5,731.9 277.5,726.9 281.5,724.5 285.5,719.8 289.5,727.5 293.5,727.8 297.5,732.4 301.5,734.5 305.5,729.8 309.5,727.1 313.5,731.7 317.5,732.8 321.5,726.5 325.5,726.5 329.5,724.6 333.5,729.7 337.5,731.9 341.5,726.1 345.5,749.8 349.5,753.6 353.5,748.4 357.5,744.2 361.5,742.3 365.5,732.3 369.5,738.6 373.5,744.1 377.5,739.7 381.5,733.8 385.5,734.9 389.5,737.3 393.5,732.3 397.5,735.7 401.5,728.1 405.5,733.8 409.5,735.5 413.5,735.2 417.5,740.7 421.5,738.8 425.5,743.0 429.5,743.0 433.5,736.7 437.5,737.4 441.5,742.5 445.5,748.2 449.5,745.0 453.5,755.5 457.5,759.0 461.5,762.7 465.5,763.3 469.5,760.4 473.5,761.5 477.5,755.4 481.5,743.1 485.5,743.7 489.5,739.2 493.5,743.7 497.5,743.7 501.5,754.7 505.5,752.9 509.5,754.9 513.5,762.5 517.5,761.1 521.5,743.2 525.5,736.0 529.5,740.5 533.5,736.2 537.5,733.3 541.5,733.8 545.5,729.3 549.5,737.2 553.5,733.2 557.5,735.2 561.5,737.3 565.5,736.2 569.5,745.1 573.5,750.8 577.5,746.6 581.5,751.8 585.5,754.9 589.5,754.9 593.5,756.1 597.5,748.8 601.5,740.8 605.5,743.4 609.5,743.7 613.5,740.1 617.5,733.7 621.5,734.4 625.5,734.7 629.5,741.7 633.5,743.0 637.5,735.2 641.5,738.4 645.5,735.0 649.5,737.7 653.5,747.4 657.5,737.8 661.5,731.3 665.5,735.7 669.5,732.8 673.5,727.7 677.5,727.7 681.5,733.1 685.5,733.4 689.5,731.4 693.5,736.6 697.5,735.2 701.5,738.1 705.5,732.9 709.5,734.3 713.5,734.3 717.5,729.3 721.5,738.2 725.5,738.6 729.5,734.8 733.5,747.9 737.5,735.6 741.5,732.8 745.5,727.7 749.5,725.1 753.5,720.8 757.5,725.5 761.5,724.4 765.5,724.9 769.5,728.5 773.5,722.2 777.5,727.3 781.5,711.7 785.5,709.7 789.5,707.6 793.5,700.9 797.5,699.3 801.5,691.0 805.5,696.3 809.5,696.2 813.5,693.2 817.5,691.9 821.5,696.7 825.5,699.6 829.5,698.3 833.5,702.8 837.5,708.1 841.5,711.0 845.5,708.2 849.5,706.2 853.5,704.9 857.5,707.1 861.5,715.0 865.5,713.3 869.5,712.1 873.5,711.8 877.5,707.4 881.5,707.2 885.5,718.0 889.5,717.6 893.5,716.1 897.5,715.0 901.5,715.0 905.5,735.5 909.5,736.8 913.5,748.0 917.5,745.3 921.5,740.7 925.5,736.3 929.5,736.8 933.5,741.8 937.5,742.2 941.5,747.0 945.5,734.3 949.5,735.2 953.5,737.4 957.5,728.3 961.5,730.7 965.5,728.4 969.5,738.1 973.5,736.1 977.5,734.6 981.5,737.4 985.5,734.6 989.5,734.1 993.5,737.8 997.5,732.4 1001.5,731.8 1005.5,731.2 1009.5,737.9 1013.5,738.5 1017.5,731.6 1021.5,725.6 1025.5,727.7 1029.5,717.7 1033.5,699.9 1037.5,698.9 1041.5,683.7 1045.5,708.2 1049.5,704.5 1053.5,705.6 1057.5,704.1 1061.5,703.9 1065.5,723.8 1069.5,719.1 1073.5,719.6 1077.5,720.0 1081.5,715.7 1085.5,716.2 1089.5,717.6 1093.5,713.5 1097.5,707.3 1101.5,703.6 1105.5,704.3 1109.5,703.9 1113.5,711.9 1117.5,708.7 1121.5,705.0 1125.5,710.6 1129.5,718.7 1133.5,721.9" fill="none" stroke="#1e90ff" stroke-width="1" shape-rendering="crispEdges"/>
<text x="9" y="679" font-size="10" fill="#000" stroke="#000" stroke-width="0.15" textLength="68.30" lengthAdjust="spacingAndGlyphs" >RSI(14) 58.0168</text>
<rect x="1421" y="668" width="2" height="1" fill="#000" shape-rendering="crispEdges" />
<text x="1424" y="677" font-size="10" fill="#000" stroke="#000" stroke-width="0.15" textLength="15.10" lengthAdjust="spacingAndGlyphs" >100</text>
<rect x="1421" y="706" width="2" height="1" fill="#000" shape-rendering="crispEdges" />
<text x="1424" y="710" font-size="10" fill="#000" stroke="#000" stroke-width="0.15" textLength="10.07" lengthAdjust="spacingAndGlyphs" >70</text>
<rect x="1421" y="757" width="2" height="1" fill="#000" shape-rendering="crispEdges" />
<text x="1424" y="761" font-size="10" fill="#000" stroke="#000" stroke-width="0.15" textLength="10.07" lengthAdjust="spacingAndGlyphs" >30</text>
<rect x="1421" y="795" width="2" height="1" fill="#000" shape-rendering="crispEdges" />
<text x="1424" y="793" font-size="10" fill="#000" stroke="#000" stroke-width="0.15" textLength="5.03" lengthAdjust="spacingAndGlyphs" >0</text>
<polygon points="5,791 5,795 9,795" fill="#c0c0c0"/>
<rect x="5" y="797" width="1" height="3" fill="#000" shape-rendering="crispEdges" />
<text x="4" y="809" font-size="10" fill="#000" stroke="#000" stroke-width="0.15" textLength="47.77" lengthAdjust="spacingAndGlyphs" >6 Aug 2018</text>
<rect x="69" y="797" width="1" height="3" fill="#000" shape-rendering="crispEdges" />
<text x="68" y="809" font-size="10" fill="#000" stroke="#000" stroke-width="0.15" textLength="53.02" lengthAdjust="spacingAndGlyphs" >28 Aug 2018</text>
<rect x="133" y="797" width="1" height="3" fill="#000" shape-rendering="crispEdges" />
<text x="132" y="809" font-size="10" fill="#000" stroke="#000" stroke-width="0.15" textLength="53.54" lengthAdjust="spacingAndGlyphs" >19 Sep 2018</text>
<rect x="197" y="797" width="1" height="3" fill="#000" shape-rendering="crispEdges" />
<text x="196" y="809" font-size="10" fill="#000" stroke="#000" stroke-width="0.15" textLength="50.73" lengthAdjust="spacingAndGlyphs" >11 Oct 2018</text>
<rect x="261" y="797" width="1" height="3" fill="#000" shape-rendering="crispEdges" />
<text x="260" y="809" font-size="10" fill="#000" stroke="#000" stroke-width="0.15" textLength="48.28" lengthAdjust="spacingAndGlyphs" >2 Nov 2018</text>
<rect x="325" y="797" width="1" height="3" fill="#000" shape-rendering="crispEdges" />
<text x="324" y="809" font-size="10" fill="#000" stroke="#000" stroke-width="0.15" textLength="53.53" lengthAdjust="spacingAndGlyphs" >26 Nov 2018</text>
<rect x="389" y="797" width="1" height="3" fill="#000" shape-rendering="crispEdges" />
<text x="388" y="809" font-size="10" fill="#000" stroke="#000" stroke-width="0.15" textLength="53.53" lengthAdjust="spacingAndGlyphs" >18 Dec 2018</text>
<rect x="453" y="797" width="1" height="3" fill="#000" shape-rendering="crispEdges" />
<text x="452" y="809" font-size="10" fill="#000" stroke="#000" stroke-width="0.15" textLength="46.71" lengthAdjust="spacingAndGlyphs" >9 Jan 2019</text>
<rect x="517" y="797" width="1" height="3" fill="#000" shape-rendering="crispEdges" />
<text x="516" y="809" font-size="10" fill="#000" stroke="#000" stroke-width="0.15" textLength="51.96" lengthAdjust="spacingAndGlyphs" >31 Jan 2019</text>
<rect x="581" y="797" width="1" height="3" fill="#000" shape-rendering="crispEdges" />
<text x="580" y="809" font-size="10" fill="#000" stroke="#000" stroke-width="0.15" textLength="53.01" lengthAdjust="spacingAndGlyphs" >22 Feb 2019</text>
<rect x="645" y="797" width="1" height="3" fill="#000" shape-rendering="crispEdges" />
<text x="644" y="809" font-size="10" fill="#000" stroke="#000" stroke-width="0.15" textLength="53.00" lengthAdjust="spacingAndGlyphs" >18 Mar 2019</text>
<rect x="709" y="797" width="1" height="3" fill="#000" shape-rendering="crispEdges" />
<text x="708" y="809" font-size="10" fill="#000" stroke="#000" stroke-width="0.15" textLength="45.66" lengthAdjust="spacingAndGlyphs" >9 Apr 2019</text>
<rect x="773" y="797" width="1" height="3" fill="#000" shape-rendering="crispEdges" />
<text x="772" y="809" font-size="10" fill="#000" stroke="#000" stroke-width="0.15" textLength="49.33" lengthAdjust="spacingAndGlyphs" >2 May 2019</text>
<rect x="837" y="797" width="1" height="3" fill="#000" shape-rendering="crispEdges" />
<text x="836" y="809" font-size="10" fill="#000" stroke="#000" stroke-width="0.15" textLength="54.57" lengthAdjust="spacingAndGlyphs" >24 May 2019</text>
<rect x="901" y="797" width="1" height="3" fill="#000" shape-rendering="crispEdges" />
<text x="900" y="809" font-size="10" fill="#000" stroke="#000" stroke-width="0.15" textLength="51.96" lengthAdjust="spacingAndGlyphs" >17 Jun 2019</text>
<rect x="965" y="797" width="1" height="3" fill="#000" shape-rendering="crispEdges" />
<text x="964" y="809" font-size="10" fill="#000" stroke="#000" stroke-width="0.15" textLength="43.56" lengthAdjust="spacingAndGlyphs" >9 Jul 2019</text>
<rect x="1029" y="797" width="1" height="3" fill="#000" shape-rendering="crispEdges" />
<text x="1028" y="809" font-size="10" fill="#000" stroke="#000" stroke-width="0.15" textLength="48.81" lengthAdjust="spacingAndGlyphs" >31 Jul 2019</text>
<rect x="1093" y="797" width="1" height="3" fill="#000" shape-rendering="crispEdges" />
<text x="1092" y="809" font-size="10" fill="#000" stroke="#000" stroke-width="0.15" textLength="53.02" lengthAdjust="spacingAndGlyphs" >22 Aug 2019</text>
<rect x="0" y="817" width="1463" height="1" fill="#e3e3e3" shape-rendering="crispEdges" />
<rect x="0" y="818" width="1463" height="1" fill="#ffffff" shape-rendering="crispEdges" />
<rect x="0" y="819" width="1463" height="1" fill="#000000" shape-rendering="crispEdges" />
<rect x="0" y="820" width="1463" height="18" fill="#f0f0f0" shape-rendering="crispEdges" />
<rect x="0" y="838" width="1463" height="3" fill="#f9f9f9" shape-rendering="crispEdges" />
<rect x="0" y="841" width="1463" height="2" fill="#f0f0f0" shape-rendering="crispEdges" />
<rect x="0" y="843" width="1463" height="1" fill="#a0a0a0" shape-rendering="crispEdges" />
<rect x="0" y="820" width="1" height="19" fill="#a0a0a0" shape-rendering="crispEdges" />
<rect x="1" y="820" width="1" height="19" fill="#696969" shape-rendering="crispEdges" />
<rect x="2" y="820" width="1" height="19" fill="#ffffff" shape-rendering="crispEdges" />
<rect x="438" y="818" width="112" height="20" fill="#ffffff" shape-rendering="crispEdges" />
<rect x="437" y="819" width="1" height="19" fill="#ffffff" shape-rendering="crispEdges" />
<rect x="438" y="819" width="1" height="19" fill="#000" shape-rendering="crispEdges" />
<rect x="549" y="819" width="1" height="19" fill="#000" shape-rendering="crispEdges" />
<rect x="438" y="837" width="112" height="1" fill="#000" shape-rendering="crispEdges" />
<text x="17" y="834" font-size="13" fill="#707070" stroke="#707070" stroke-width="0.15" textLength="86.59" lengthAdjust="spacingAndGlyphs" >EURUSD-,Daily</text>
<text x="124.5" y="834" font-size="13" fill="#707070" stroke="#707070" stroke-width="0.15" textLength="86.59" lengthAdjust="spacingAndGlyphs" >AUDUSD-,Daily</text>
<text x="233" y="834" font-size="13" fill="#707070" stroke="#707070" stroke-width="0.15" textLength="85.90" lengthAdjust="spacingAndGlyphs" >USDCHF-,Daily</text>
<text x="341" y="834" font-size="13" fill="#707070" stroke="#707070" stroke-width="0.15" textLength="86.59" lengthAdjust="spacingAndGlyphs" >USDCAD-,Daily</text>
<text x="450.7" y="834" font-size="13" fill="#000" stroke="#000" stroke-width="0.15" textLength="87.27" lengthAdjust="spacingAndGlyphs" >USDCNH-,Daily</text>
<text x="561" y="834" font-size="13" fill="#707070" stroke="#707070" stroke-width="0.15" textLength="98.64" lengthAdjust="spacingAndGlyphs" >EURCHF-,Weekly</text>
<text x="681" y="834" font-size="13" fill="#707070" stroke="#707070" stroke-width="0.15" textLength="98.65" lengthAdjust="spacingAndGlyphs" >XAUUSD-,Weekly</text>
<text x="805" y="834" font-size="13" fill="#707070" stroke="#707070" stroke-width="0.15" textLength="75.01" lengthAdjust="spacingAndGlyphs" >GBPUSD-,H1</text>
<text x="900" y="834" font-size="13" fill="#707070" stroke="#707070" stroke-width="0.15" textLength="55.23" lengthAdjust="spacingAndGlyphs" >UKOil-,H1</text>
<text x="981" y="834" font-size="13" fill="#707070" stroke="#707070" stroke-width="0.15" textLength="81.60" lengthAdjust="spacingAndGlyphs" >USDX-,Weekly</text>
<rect x="114" y="822" width="1" height="14" fill="#505050" shape-rendering="crispEdges" />
<rect x="222" y="822" width="1" height="14" fill="#505050" shape-rendering="crispEdges" />
<rect x="330" y="822" width="1" height="14" fill="#505050" shape-rendering="crispEdges" />
<rect x="670" y="822" width="1" height="14" fill="#505050" shape-rendering="crispEdges" />
<rect x="794" y="822" width="1" height="14" fill="#505050" shape-rendering="crispEdges" />
<rect x="889" y="822" width="1" height="14" fill="#505050" shape-rendering="crispEdges" />
<rect x="971" y="822" width="1" height="14" fill="#505050" shape-rendering="crispEdges" />
<rect x="1075" y="822" width="1" height="14" fill="#505050" shape-rendering="crispEdges" />
<polygon points="1440,825 1440,832 1436,828.5" fill="#a0a0a0"/>
<polygon points="1455,825 1455,832 1459,828.5" fill="#a0a0a0"/>
<defs>
<linearGradient id="gtop" x1="0" y1="0" x2="0" y2="1"><stop offset="0" stop-color="#ff5a5a"/><stop offset="1" stop-color="#e02a2a"/></linearGradient>
<linearGradient id="gbot" x1="0" y1="0" x2="0" y2="1"><stop offset="0" stop-color="#e23434"/><stop offset="1" stop-color="#b00000"/></linearGradient>
<linearGradient id="gbtn" x1="0" y1="0" x2="0" y2="1"><stop offset="0" stop-color="#f2f2f2"/><stop offset="0.45" stop-color="#e6e6e6"/><stop offset="0.5" stop-color="#d8d8d8"/><stop offset="1" stop-color="#d0d0d0"/></linearGradient>
</defs>
<rect x="8" y="40" width="52" height="25" fill="#c40000" shape-rendering="crispEdges" />
<rect x="9" y="41" width="50" height="24" fill="url(#gtop)" shape-rendering="crispEdges" />
<rect x="8" y="64" width="109" height="40" fill="#c40000" shape-rendering="crispEdges" />
<rect x="9" y="65" width="107" height="38" fill="url(#gbot)" shape-rendering="crispEdges" />
<rect x="9" y="64" width="50" height="1" fill="#e02a2a" shape-rendering="crispEdges" />
<rect x="12" y="63" width="44" height="1" fill="#8a0000" shape-rendering="crispEdges" />
<rect x="175" y="40" width="52" height="25" fill="#c40000" shape-rendering="crispEdges" />
<rect x="176" y="41" width="50" height="24" fill="url(#gtop)" shape-rendering="crispEdges" />
<rect x="119" y="64" width="108" height="40" fill="#c40000" shape-rendering="crispEdges" />
<rect x="120" y="65" width="106" height="38" fill="url(#gbot)" shape-rendering="crispEdges" />
<rect x="176" y="64" width="50" height="1" fill="#e02a2a" shape-rendering="crispEdges" />
<rect x="179" y="63" width="44" height="1" fill="#8a0000" shape-rendering="crispEdges" />
<rect x="62" y="40" width="111" height="22" fill="#a9a9b0" shape-rendering="crispEdges" />
<rect x="63" y="41" width="109" height="20" fill="#ffffff" shape-rendering="crispEdges" />
<rect x="63" y="41" width="20" height="20" fill="url(#gbtn)" shape-rendering="crispEdges" />
<rect x="83" y="41" width="1" height="20" fill="#a9a9b0" shape-rendering="crispEdges" />
<rect x="152" y="41" width="20" height="20" fill="url(#gbtn)" shape-rendering="crispEdges" />
<rect x="151" y="41" width="1" height="20" fill="#a9a9b0" shape-rendering="crispEdges" />
<polygon points="69,49 76,49 72.5,52" fill="#4a5aa8"/>
<polygon points="158,52 165,52 161.5,49" fill="#4a5aa8"/>
<text x="148" y="56" font-size="12" fill="#000" stroke="#000" stroke-width="0.15" textLength="22.19" lengthAdjust="spacingAndGlyphs" text-anchor="end" >1.00</text>
<text x="20.5" y="56" font-size="12.5" fill="#ffffff" stroke="#ffffff" stroke-width="0.15" textLength="25.50" lengthAdjust="spacingAndGlyphs" >SELL</text>
<text x="188.7" y="56" font-size="12.5" fill="#ffffff" stroke="#ffffff" stroke-width="0.15" textLength="23.00" lengthAdjust="spacingAndGlyphs" >BUY</text>
<text x="28" y="95" font-size="12" fill="#ffffff" stroke="#ffffff" stroke-width="0.15" textLength="23.00" lengthAdjust="spacingAndGlyphs" font-weight="bold" >7.13</text>
<text x="55" y="95" font-size="33" fill="#ffffff" stroke="#ffffff" stroke-width="0.15" textLength="34.00" lengthAdjust="spacingAndGlyphs" >02</text>
<text x="96" y="78" font-size="11" fill="#ffffff" stroke="#ffffff" stroke-width="0.15" textLength="6.00" lengthAdjust="spacingAndGlyphs" font-weight="bold" >3</text>
<text x="138" y="95" font-size="12" fill="#ffffff" stroke="#ffffff" stroke-width="0.15" textLength="23.00" lengthAdjust="spacingAndGlyphs" font-weight="bold" >7.13</text>
<text x="167" y="95" font-size="33" fill="#ffffff" stroke="#ffffff" stroke-width="0.15" textLength="33.00" lengthAdjust="spacingAndGlyphs" >25</text>
<text x="206" y="78" font-size="11" fill="#ffffff" stroke="#ffffff" stroke-width="0.15" textLength="6.00" lengthAdjust="spacingAndGlyphs" font-weight="bold" >6</text>
</svg></body></html>
